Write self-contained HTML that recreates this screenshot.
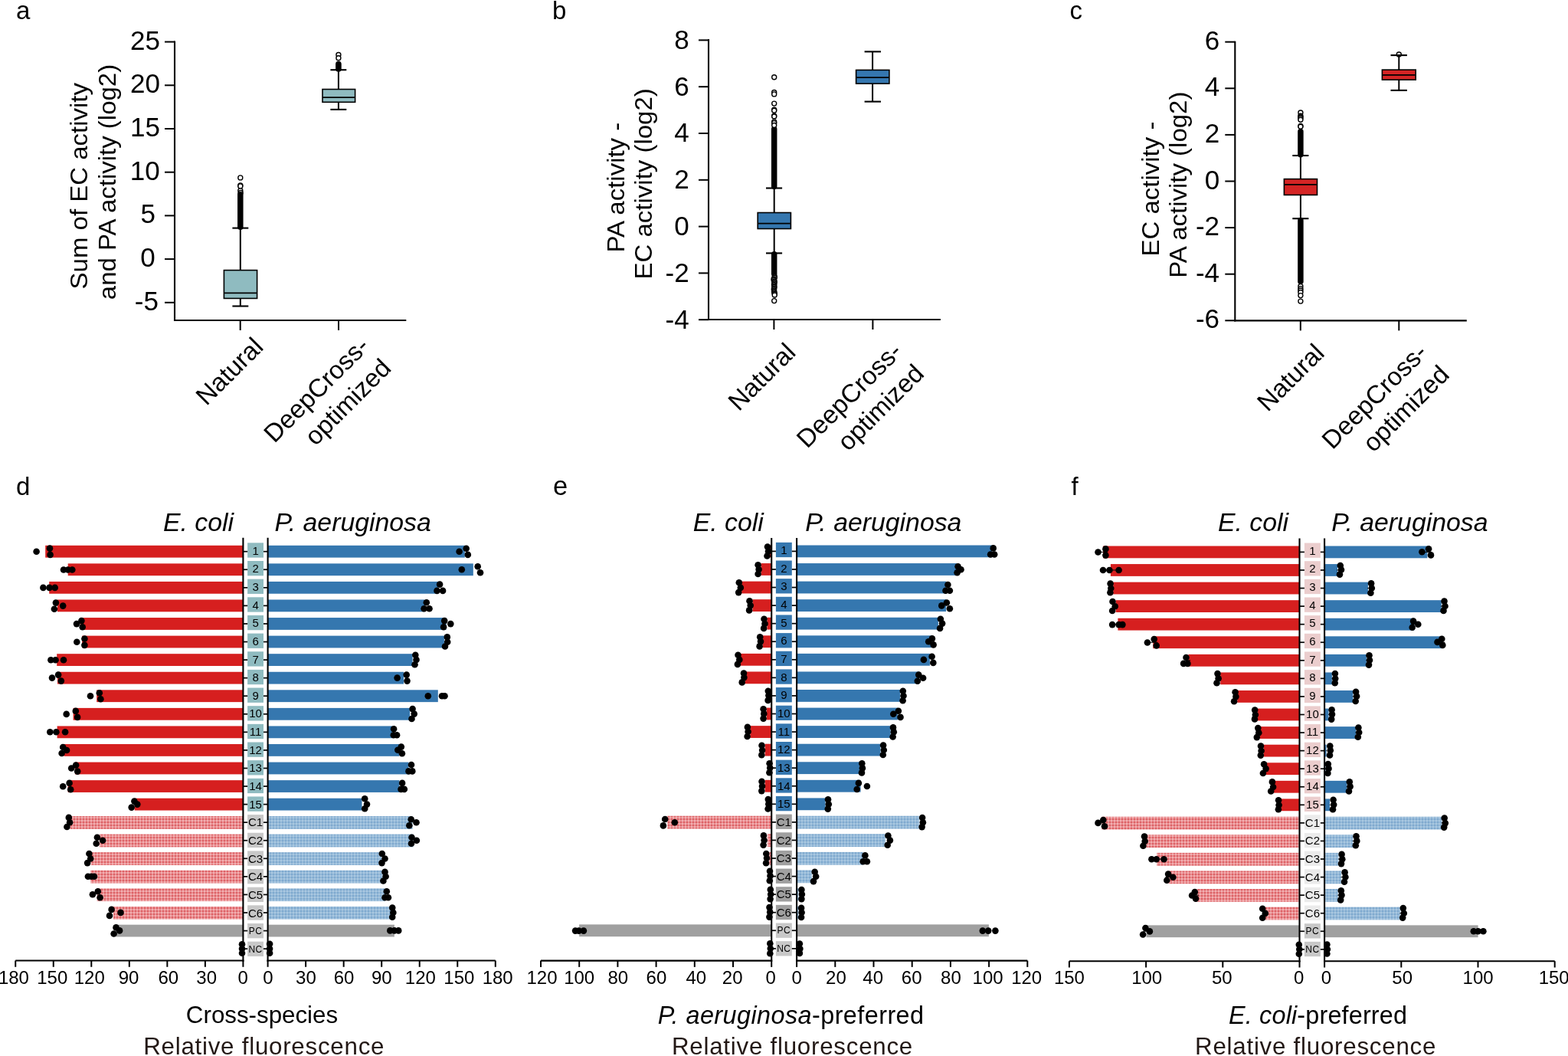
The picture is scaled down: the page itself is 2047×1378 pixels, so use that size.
<!DOCTYPE html>
<html><head><meta charset="utf-8"><title>Figure</title>
<style>html,body{margin:0;padding:0;background:#fff;}svg{display:block;}</style>
</head><body>
<svg width="2047" height="1378" viewBox="0 0 2047 1378" font-family="'Liberation Sans', Arial, Helvetica, sans-serif">
<defs>
<pattern id="hr" width="4" height="4" patternUnits="userSpaceOnUse">
<rect width="4" height="4" fill="#E98E91"/><rect x="0" y="0" width="2" height="2" fill="#DD6266"/><rect x="2" y="2" width="2" height="2" fill="#F2B0B2"/>
</pattern>
<pattern id="hb" width="4" height="4" patternUnits="userSpaceOnUse">
<rect width="4" height="4" fill="#96BAD8"/><rect x="0" y="0" width="2" height="2" fill="#7FA9CF"/><rect x="2" y="2" width="2" height="2" fill="#AAC8E1"/>
</pattern>
</defs>
<rect width="2047" height="1378" fill="#fff"/>
<line x1="228" y1="53.4" x2="228" y2="419" stroke="#000" stroke-width="2.1"/>
<line x1="227" y1="418" x2="530.3" y2="418" stroke="#000" stroke-width="2.1"/>
<line x1="215" y1="54.6" x2="228" y2="54.6" stroke="#000" stroke-width="2"/>
<text x="208.9" y="64.6" font-size="35" text-anchor="end">25</text>
<line x1="215" y1="111.3" x2="228" y2="111.3" stroke="#000" stroke-width="2"/>
<text x="208.9" y="121.3" font-size="35" text-anchor="end">20</text>
<line x1="215" y1="168" x2="228" y2="168" stroke="#000" stroke-width="2"/>
<text x="208.9" y="178" font-size="35" text-anchor="end">15</text>
<line x1="215" y1="224.7" x2="228" y2="224.7" stroke="#000" stroke-width="2"/>
<text x="208.7" y="234.7" font-size="35" text-anchor="end">10</text>
<line x1="215" y1="281.4" x2="228" y2="281.4" stroke="#000" stroke-width="2"/>
<text x="202.9" y="291.4" font-size="35" text-anchor="end">5</text>
<line x1="215" y1="338.1" x2="228" y2="338.1" stroke="#000" stroke-width="2"/>
<text x="202.6" y="348.1" font-size="35" text-anchor="end">0</text>
<line x1="215" y1="394.8" x2="228" y2="394.8" stroke="#000" stroke-width="2"/>
<text x="206.9" y="404.8" font-size="35" text-anchor="end">-5</text>
<line x1="313.7" y1="418" x2="313.7" y2="431" stroke="#000" stroke-width="2"/>
<line x1="442" y1="418" x2="442" y2="431" stroke="#000" stroke-width="2"/>
<circle cx="313.8" cy="248.6" r="3.0" fill="#fff" stroke="#000" stroke-width="1.4"/>
<circle cx="314.1" cy="251.5" r="3.0" fill="#fff" stroke="#000" stroke-width="1.4"/>
<rect x="310.05" y="250" width="7.5" height="50" rx="3.75" fill="#000"/>
<circle cx="313.8" cy="231.9" r="3.0" fill="#fff" stroke="#000" stroke-width="1.4"/>
<circle cx="313.8" cy="241.9" r="3.0" fill="#fff" stroke="#000" stroke-width="1.4"/>
<circle cx="313.8" cy="242.9" r="3.0" fill="#fff" stroke="#000" stroke-width="1.4"/>
<line x1="313.8" y1="352.6" x2="313.8" y2="297.6" stroke="#000" stroke-width="2"/>
<line x1="313.8" y1="389.4" x2="313.8" y2="399.5" stroke="#000" stroke-width="2"/>
<line x1="303.4" y1="297.6" x2="324.3" y2="297.6" stroke="#000" stroke-width="2.1"/>
<line x1="303.4" y1="399.5" x2="324.3" y2="399.5" stroke="#000" stroke-width="2.1"/>
<rect x="292.4" y="352.6" width="43.2" height="36.8" fill="#8FBBC0" stroke="#000" stroke-width="1.6"/>
<line x1="292.4" y1="382.4" x2="335.6" y2="382.4" stroke="#000" stroke-width="1.8"/>
<rect x="438.1" y="79.8" width="7.6" height="14" rx="3.8" fill="#000"/>
<circle cx="441.9" cy="71.5" r="3.0" fill="#fff" stroke="#000" stroke-width="1.4"/>
<circle cx="441.9" cy="75.8" r="3.0" fill="#fff" stroke="#000" stroke-width="1.4"/>
<line x1="441.9" y1="116.5" x2="441.9" y2="91.2" stroke="#000" stroke-width="2"/>
<line x1="441.9" y1="133.3" x2="441.9" y2="142.9" stroke="#000" stroke-width="2"/>
<line x1="431.4" y1="91.2" x2="452.3" y2="91.2" stroke="#000" stroke-width="2.1"/>
<line x1="431.4" y1="142.9" x2="452.3" y2="142.9" stroke="#000" stroke-width="2.1"/>
<rect x="421" y="116.5" width="42.6" height="16.8" fill="#8FBBC0" stroke="#000" stroke-width="1.6"/>
<line x1="421" y1="127.2" x2="463.6" y2="127.2" stroke="#000" stroke-width="1.8"/>
<text transform="translate(113.9,242.7) rotate(-90) scale(1.031,1)" font-size="32" text-anchor="middle">Sum of EC activity</text>
<text transform="translate(150.5,237.5) rotate(-90) scale(1.031,1)" font-size="32" text-anchor="middle">and PA activity (log2)</text>
<text transform="translate(345.5,454.6) rotate(-45)" font-size="33.3" text-anchor="end">Natural</text>
<text transform="translate(483.8,453.6) rotate(-45)" font-size="33.3" text-anchor="end">DeepCross-</text>
<text transform="translate(512.44,482.24) rotate(-45)" font-size="33.3" text-anchor="end">optimized</text>
<text x="20.9" y="25.2" font-size="33">a</text>
<line x1="925" y1="50.9" x2="925" y2="418" stroke="#000" stroke-width="2.1"/>
<line x1="924" y1="417" x2="1227.9" y2="417" stroke="#000" stroke-width="2.1"/>
<line x1="912" y1="52.4" x2="925" y2="52.4" stroke="#000" stroke-width="2"/>
<text x="899.7" y="63.7" font-size="35" text-anchor="end">8</text>
<line x1="912" y1="113.2" x2="925" y2="113.2" stroke="#000" stroke-width="2"/>
<text x="899.7" y="124.5" font-size="35" text-anchor="end">6</text>
<line x1="912" y1="174" x2="925" y2="174" stroke="#000" stroke-width="2"/>
<text x="899.7" y="185.3" font-size="35" text-anchor="end">4</text>
<line x1="912" y1="234.8" x2="925" y2="234.8" stroke="#000" stroke-width="2"/>
<text x="899.7" y="246.1" font-size="35" text-anchor="end">2</text>
<line x1="912" y1="295.6" x2="925" y2="295.6" stroke="#000" stroke-width="2"/>
<text x="899.7" y="306.9" font-size="35" text-anchor="end">0</text>
<line x1="912" y1="356.4" x2="925" y2="356.4" stroke="#000" stroke-width="2"/>
<text x="899.7" y="367.7" font-size="35" text-anchor="end">-2</text>
<line x1="912" y1="417.2" x2="925" y2="417.2" stroke="#000" stroke-width="2"/>
<text x="899.7" y="428.5" font-size="35" text-anchor="end">-4</text>
<line x1="1010.4" y1="417" x2="1010.4" y2="430" stroke="#000" stroke-width="2"/>
<line x1="1139.4" y1="417" x2="1139.4" y2="430" stroke="#000" stroke-width="2"/>
<rect x="1006.95" y="164.7" width="7.5" height="82.3" rx="3.75" fill="#000"/>
<rect x="1006.95" y="328" width="7.5" height="33" rx="3.75" fill="#000"/>
<circle cx="1010.7" cy="100.8" r="3.0" fill="#fff" stroke="#000" stroke-width="1.4"/>
<circle cx="1010.7" cy="120.5" r="3.0" fill="#fff" stroke="#000" stroke-width="1.4"/>
<circle cx="1010.7" cy="122.9" r="3.0" fill="#fff" stroke="#000" stroke-width="1.4"/>
<circle cx="1010.7" cy="135.1" r="3.0" fill="#fff" stroke="#000" stroke-width="1.4"/>
<circle cx="1010.7" cy="143.2" r="3.0" fill="#fff" stroke="#000" stroke-width="1.4"/>
<circle cx="1010.7" cy="144.3" r="3.0" fill="#fff" stroke="#000" stroke-width="1.4"/>
<circle cx="1010.7" cy="151.3" r="3.0" fill="#fff" stroke="#000" stroke-width="1.4"/>
<circle cx="1010.7" cy="152" r="3.0" fill="#fff" stroke="#000" stroke-width="1.4"/>
<circle cx="1010.7" cy="158.9" r="3.0" fill="#fff" stroke="#000" stroke-width="1.4"/>
<circle cx="1010.7" cy="160.6" r="3.0" fill="#fff" stroke="#000" stroke-width="1.4"/>
<circle cx="1010.7" cy="163.5" r="3.0" fill="#fff" stroke="#000" stroke-width="1.4"/>
<circle cx="1011.25" cy="361" r="3.0" fill="#fff" stroke="#000" stroke-width="1.4"/>
<circle cx="1011.24" cy="362.5" r="3.0" fill="#fff" stroke="#000" stroke-width="1.4"/>
<circle cx="1010.17" cy="364" r="3.0" fill="#fff" stroke="#000" stroke-width="1.4"/>
<circle cx="1010.2" cy="365.5" r="3.0" fill="#fff" stroke="#000" stroke-width="1.4"/>
<circle cx="1011.1" cy="367" r="3.0" fill="#fff" stroke="#000" stroke-width="1.4"/>
<circle cx="1010.98" cy="368.5" r="3.0" fill="#fff" stroke="#000" stroke-width="1.4"/>
<circle cx="1010.9" cy="370" r="3.0" fill="#fff" stroke="#000" stroke-width="1.4"/>
<circle cx="1010.47" cy="371.5" r="3.0" fill="#fff" stroke="#000" stroke-width="1.4"/>
<circle cx="1010.83" cy="373" r="3.0" fill="#fff" stroke="#000" stroke-width="1.4"/>
<circle cx="1010.83" cy="374.5" r="3.0" fill="#fff" stroke="#000" stroke-width="1.4"/>
<circle cx="1010.8" cy="376" r="3.0" fill="#fff" stroke="#000" stroke-width="1.4"/>
<circle cx="1010.29" cy="377.5" r="3.0" fill="#fff" stroke="#000" stroke-width="1.4"/>
<circle cx="1010.62" cy="379" r="3.0" fill="#fff" stroke="#000" stroke-width="1.4"/>
<circle cx="1010.57" cy="380.5" r="3.0" fill="#fff" stroke="#000" stroke-width="1.4"/>
<circle cx="1010.97" cy="382" r="3.0" fill="#fff" stroke="#000" stroke-width="1.4"/>
<circle cx="1011.29" cy="383.5" r="3.0" fill="#fff" stroke="#000" stroke-width="1.4"/>
<circle cx="1011.24" cy="385" r="3.0" fill="#fff" stroke="#000" stroke-width="1.4"/>
<circle cx="1010.7" cy="392.6" r="3.0" fill="#fff" stroke="#000" stroke-width="1.4"/>
<line x1="1010.7" y1="277.5" x2="1010.7" y2="245.5" stroke="#000" stroke-width="2"/>
<line x1="1010.7" y1="298.5" x2="1010.7" y2="330.4" stroke="#000" stroke-width="2"/>
<line x1="1000" y1="245.5" x2="1021.1" y2="245.5" stroke="#000" stroke-width="2.1"/>
<line x1="1000" y1="330.4" x2="1021.1" y2="330.4" stroke="#000" stroke-width="2.1"/>
<rect x="989.2" y="277.5" width="43.2" height="21" fill="#3577AF" stroke="#000" stroke-width="1.6"/>
<line x1="989.2" y1="291.7" x2="1032.4" y2="291.7" stroke="#000" stroke-width="1.8"/>
<line x1="1139.1" y1="91.4" x2="1139.1" y2="67.4" stroke="#000" stroke-width="2"/>
<line x1="1139.1" y1="109.1" x2="1139.1" y2="132.6" stroke="#000" stroke-width="2"/>
<line x1="1128.6" y1="67.4" x2="1150" y2="67.4" stroke="#000" stroke-width="2.1"/>
<line x1="1128.6" y1="132.6" x2="1150" y2="132.6" stroke="#000" stroke-width="2.1"/>
<rect x="1117.6" y="91.4" width="43.3" height="17.7" fill="#3577AF" stroke="#000" stroke-width="1.6"/>
<line x1="1117.6" y1="101.1" x2="1160.9" y2="101.1" stroke="#000" stroke-width="1.8"/>
<text transform="translate(814.9,244.65) rotate(-90) scale(1.031,1)" font-size="32" text-anchor="middle">PA activity -</text>
<text transform="translate(850.7,239.85) rotate(-90) scale(1.031,1)" font-size="32" text-anchor="middle">EC activity (log2)</text>
<text transform="translate(1040.5,461.8) rotate(-45)" font-size="33.3" text-anchor="end">Natural</text>
<text transform="translate(1179.45,460.65) rotate(-45)" font-size="33.3" text-anchor="end">DeepCross-</text>
<text transform="translate(1208.09,489.29) rotate(-45)" font-size="33.3" text-anchor="end">optimized</text>
<text x="721" y="25.2" font-size="33">b</text>
<line x1="1612.3" y1="53.7" x2="1612.3" y2="419.4" stroke="#000" stroke-width="2.1"/>
<line x1="1611.3" y1="418.4" x2="1914.8" y2="418.4" stroke="#000" stroke-width="2.1"/>
<line x1="1599.3" y1="54.7" x2="1612.3" y2="54.7" stroke="#000" stroke-width="2"/>
<text x="1592.1" y="64.7" font-size="35" text-anchor="end">6</text>
<line x1="1599.3" y1="115.3" x2="1612.3" y2="115.3" stroke="#000" stroke-width="2"/>
<text x="1592.1" y="125.3" font-size="35" text-anchor="end">4</text>
<line x1="1599.3" y1="175.9" x2="1612.3" y2="175.9" stroke="#000" stroke-width="2"/>
<text x="1592.1" y="185.9" font-size="35" text-anchor="end">2</text>
<line x1="1599.3" y1="236.5" x2="1612.3" y2="236.5" stroke="#000" stroke-width="2"/>
<text x="1592.1" y="246.5" font-size="35" text-anchor="end">0</text>
<line x1="1599.3" y1="297.1" x2="1612.3" y2="297.1" stroke="#000" stroke-width="2"/>
<text x="1592.1" y="307.1" font-size="35" text-anchor="end">-2</text>
<line x1="1599.3" y1="357.7" x2="1612.3" y2="357.7" stroke="#000" stroke-width="2"/>
<text x="1592.1" y="367.7" font-size="35" text-anchor="end">-4</text>
<line x1="1599.3" y1="418.3" x2="1612.3" y2="418.3" stroke="#000" stroke-width="2"/>
<text x="1592.1" y="428.3" font-size="35" text-anchor="end">-6</text>
<line x1="1697.8" y1="418.4" x2="1697.8" y2="431.4" stroke="#000" stroke-width="2"/>
<line x1="1826.3" y1="418.4" x2="1826.3" y2="431.4" stroke="#000" stroke-width="2"/>
<rect x="1694.15" y="167.9" width="7.5" height="37.7" rx="3.75" fill="#000"/>
<rect x="1694.15" y="284" width="7.5" height="87" rx="3.75" fill="#000"/>
<circle cx="1697.9" cy="147" r="3.0" fill="#fff" stroke="#000" stroke-width="1.4"/>
<circle cx="1697.9" cy="151.3" r="3.0" fill="#fff" stroke="#000" stroke-width="1.4"/>
<circle cx="1697.9" cy="152.8" r="3.0" fill="#fff" stroke="#000" stroke-width="1.4"/>
<circle cx="1697.9" cy="154.3" r="3.0" fill="#fff" stroke="#000" stroke-width="1.4"/>
<circle cx="1697.9" cy="156.3" r="3.0" fill="#fff" stroke="#000" stroke-width="1.4"/>
<circle cx="1697.9" cy="164.4" r="3.0" fill="#fff" stroke="#000" stroke-width="1.4"/>
<circle cx="1697.9" cy="165.2" r="3.0" fill="#fff" stroke="#000" stroke-width="1.4"/>
<circle cx="1697.9" cy="373.5" r="3.0" fill="#fff" stroke="#000" stroke-width="1.4"/>
<circle cx="1697.9" cy="376.6" r="3.0" fill="#fff" stroke="#000" stroke-width="1.4"/>
<circle cx="1697.9" cy="379" r="3.0" fill="#fff" stroke="#000" stroke-width="1.4"/>
<circle cx="1697.9" cy="381.5" r="3.0" fill="#fff" stroke="#000" stroke-width="1.4"/>
<circle cx="1697.9" cy="385.6" r="3.0" fill="#fff" stroke="#000" stroke-width="1.4"/>
<circle cx="1697.9" cy="393.1" r="3.0" fill="#fff" stroke="#000" stroke-width="1.4"/>
<line x1="1697.9" y1="233.6" x2="1697.9" y2="203" stroke="#000" stroke-width="2"/>
<line x1="1697.9" y1="254.4" x2="1697.9" y2="285.2" stroke="#000" stroke-width="2"/>
<line x1="1687.3" y1="203" x2="1708.4" y2="203" stroke="#000" stroke-width="2.1"/>
<line x1="1687.3" y1="285.2" x2="1708.4" y2="285.2" stroke="#000" stroke-width="2.1"/>
<rect x="1676.4" y="233.6" width="43.1" height="20.8" fill="#D42424" stroke="#000" stroke-width="1.6"/>
<line x1="1676.4" y1="240.9" x2="1719.5" y2="240.9" stroke="#000" stroke-width="1.8"/>
<circle cx="1826.3" cy="71" r="3.0" fill="#fff" stroke="#000" stroke-width="1.4"/>
<line x1="1826.3" y1="91.1" x2="1826.3" y2="72.1" stroke="#000" stroke-width="2"/>
<line x1="1826.3" y1="104.1" x2="1826.3" y2="117.9" stroke="#000" stroke-width="2"/>
<line x1="1815.5" y1="72.1" x2="1836.9" y2="72.1" stroke="#000" stroke-width="2.1"/>
<line x1="1815.5" y1="117.9" x2="1836.9" y2="117.9" stroke="#000" stroke-width="2.1"/>
<rect x="1804.4" y="91.1" width="43.8" height="13" fill="#D42424" stroke="#000" stroke-width="1.6"/>
<line x1="1804.4" y1="97.9" x2="1848.2" y2="97.9" stroke="#000" stroke-width="1.8"/>
<text transform="translate(1512.6,246.55) rotate(-90) scale(1.031,1)" font-size="32" text-anchor="middle">EC activity -</text>
<text transform="translate(1548.7,241.15) rotate(-90) scale(1.031,1)" font-size="32" text-anchor="middle">PA activity (log2)</text>
<text transform="translate(1730.85,462.7) rotate(-45)" font-size="33.3" text-anchor="end">Natural</text>
<text transform="translate(1865.1,462.1) rotate(-45)" font-size="33.3" text-anchor="end">DeepCross-</text>
<text transform="translate(1893.74,490.74) rotate(-45)" font-size="33.3" text-anchor="end">optimized</text>
<text x="1396.5" y="25.3" font-size="33">c</text>
<text x="305.1" y="692.7" font-size="33.8" font-style="italic" text-anchor="end">E. coli</text>
<text x="358.6" y="692.7" font-size="33.8" font-style="italic">P. aeruginosa</text>
<rect x="59.2" y="711.8" width="258.2" height="15.8" fill="#D61F1F"/>
<rect x="349.6" y="711.8" width="257.2" height="15.8" fill="#3577AF"/>
<rect x="323.1" y="708.35" width="20.9" height="19.3" fill="#8FBBC0"/>
<text x="333.55" y="723.6" font-size="15" text-anchor="middle">1</text>
<line x1="317.4" y1="719.7" x2="323.1" y2="719.7" stroke="#000" stroke-width="1.7"/>
<line x1="344" y1="719.7" x2="349.6" y2="719.7" stroke="#000" stroke-width="1.7"/>
<rect x="88.7" y="735.37" width="228.7" height="15.8" fill="#D61F1F"/>
<rect x="349.6" y="735.37" width="268.2" height="15.8" fill="#3577AF"/>
<rect x="323.1" y="732" width="20.9" height="19.3" fill="#8FBBC0"/>
<text x="333.55" y="747.25" font-size="15" text-anchor="middle">2</text>
<line x1="317.4" y1="743.27" x2="323.1" y2="743.27" stroke="#000" stroke-width="1.7"/>
<line x1="344" y1="743.27" x2="349.6" y2="743.27" stroke="#000" stroke-width="1.7"/>
<rect x="64.2" y="758.93" width="253.2" height="15.8" fill="#D61F1F"/>
<rect x="349.6" y="758.93" width="222.5" height="15.8" fill="#3577AF"/>
<rect x="323.1" y="755.65" width="20.9" height="19.3" fill="#8FBBC0"/>
<text x="333.55" y="770.9" font-size="15" text-anchor="middle">3</text>
<line x1="317.4" y1="766.83" x2="323.1" y2="766.83" stroke="#000" stroke-width="1.7"/>
<line x1="344" y1="766.83" x2="349.6" y2="766.83" stroke="#000" stroke-width="1.7"/>
<rect x="75" y="782.5" width="242.4" height="15.8" fill="#D61F1F"/>
<rect x="349.6" y="782.5" width="204.8" height="15.8" fill="#3577AF"/>
<rect x="323.1" y="779.3" width="20.9" height="19.3" fill="#8FBBC0"/>
<text x="333.55" y="794.55" font-size="15" text-anchor="middle">4</text>
<line x1="317.4" y1="790.4" x2="323.1" y2="790.4" stroke="#000" stroke-width="1.7"/>
<line x1="344" y1="790.4" x2="349.6" y2="790.4" stroke="#000" stroke-width="1.7"/>
<rect x="104.8" y="806.06" width="212.6" height="15.8" fill="#D61F1F"/>
<rect x="349.6" y="806.06" width="233" height="15.8" fill="#3577AF"/>
<rect x="323.1" y="802.95" width="20.9" height="19.3" fill="#8FBBC0"/>
<text x="333.55" y="818.2" font-size="15" text-anchor="middle">5</text>
<line x1="317.4" y1="813.96" x2="323.1" y2="813.96" stroke="#000" stroke-width="1.7"/>
<line x1="344" y1="813.96" x2="349.6" y2="813.96" stroke="#000" stroke-width="1.7"/>
<rect x="107.2" y="829.63" width="210.2" height="15.8" fill="#D61F1F"/>
<rect x="349.6" y="829.63" width="230.3" height="15.8" fill="#3577AF"/>
<rect x="323.1" y="826.6" width="20.9" height="19.3" fill="#8FBBC0"/>
<text x="333.55" y="841.85" font-size="15" text-anchor="middle">6</text>
<line x1="317.4" y1="837.53" x2="323.1" y2="837.53" stroke="#000" stroke-width="1.7"/>
<line x1="344" y1="837.53" x2="349.6" y2="837.53" stroke="#000" stroke-width="1.7"/>
<rect x="74.2" y="853.19" width="243.2" height="15.8" fill="#D61F1F"/>
<rect x="349.6" y="853.19" width="189" height="15.8" fill="#3577AF"/>
<rect x="323.1" y="850.25" width="20.9" height="19.3" fill="#8FBBC0"/>
<text x="333.55" y="865.5" font-size="15" text-anchor="middle">7</text>
<line x1="317.4" y1="861.09" x2="323.1" y2="861.09" stroke="#000" stroke-width="1.7"/>
<line x1="344" y1="861.09" x2="349.6" y2="861.09" stroke="#000" stroke-width="1.7"/>
<rect x="75" y="876.76" width="242.4" height="15.8" fill="#D61F1F"/>
<rect x="349.6" y="876.76" width="177.4" height="15.8" fill="#3577AF"/>
<rect x="323.1" y="873.9" width="20.9" height="19.3" fill="#8FBBC0"/>
<text x="333.55" y="889.15" font-size="15" text-anchor="middle">8</text>
<line x1="317.4" y1="884.66" x2="323.1" y2="884.66" stroke="#000" stroke-width="1.7"/>
<line x1="344" y1="884.66" x2="349.6" y2="884.66" stroke="#000" stroke-width="1.7"/>
<rect x="126.2" y="900.32" width="191.2" height="15.8" fill="#D61F1F"/>
<rect x="349.6" y="900.32" width="222.2" height="15.8" fill="#3577AF"/>
<rect x="323.1" y="897.55" width="20.9" height="19.3" fill="#8FBBC0"/>
<text x="333.55" y="912.8" font-size="15" text-anchor="middle">9</text>
<line x1="317.4" y1="908.22" x2="323.1" y2="908.22" stroke="#000" stroke-width="1.7"/>
<line x1="344" y1="908.22" x2="349.6" y2="908.22" stroke="#000" stroke-width="1.7"/>
<rect x="95.6" y="923.89" width="221.8" height="15.8" fill="#D61F1F"/>
<rect x="349.6" y="923.89" width="185.5" height="15.8" fill="#3577AF"/>
<rect x="323.1" y="921.2" width="20.9" height="19.3" fill="#8FBBC0"/>
<text x="333.55" y="936.45" font-size="15" text-anchor="middle">10</text>
<line x1="317.4" y1="931.79" x2="323.1" y2="931.79" stroke="#000" stroke-width="1.7"/>
<line x1="344" y1="931.79" x2="349.6" y2="931.79" stroke="#000" stroke-width="1.7"/>
<rect x="74.6" y="947.45" width="242.8" height="15.8" fill="#D61F1F"/>
<rect x="349.6" y="947.45" width="162.6" height="15.8" fill="#3577AF"/>
<rect x="323.1" y="944.85" width="20.9" height="19.3" fill="#8FBBC0"/>
<text x="333.55" y="960.1" font-size="15" text-anchor="middle">11</text>
<line x1="317.4" y1="955.35" x2="323.1" y2="955.35" stroke="#000" stroke-width="1.7"/>
<line x1="344" y1="955.35" x2="349.6" y2="955.35" stroke="#000" stroke-width="1.7"/>
<rect x="83.5" y="971.02" width="233.9" height="15.8" fill="#D61F1F"/>
<rect x="349.6" y="971.02" width="171.8" height="15.8" fill="#3577AF"/>
<rect x="323.1" y="968.5" width="20.9" height="19.3" fill="#8FBBC0"/>
<text x="333.55" y="983.75" font-size="15" text-anchor="middle">12</text>
<line x1="317.4" y1="978.92" x2="323.1" y2="978.92" stroke="#000" stroke-width="1.7"/>
<line x1="344" y1="978.92" x2="349.6" y2="978.92" stroke="#000" stroke-width="1.7"/>
<rect x="97.9" y="994.58" width="219.5" height="15.8" fill="#D61F1F"/>
<rect x="349.6" y="994.58" width="183.9" height="15.8" fill="#3577AF"/>
<rect x="323.1" y="992.15" width="20.9" height="19.3" fill="#8FBBC0"/>
<text x="333.55" y="1007.4" font-size="15" text-anchor="middle">13</text>
<line x1="317.4" y1="1002.48" x2="323.1" y2="1002.48" stroke="#000" stroke-width="1.7"/>
<line x1="344" y1="1002.48" x2="349.6" y2="1002.48" stroke="#000" stroke-width="1.7"/>
<rect x="88.7" y="1018.15" width="228.7" height="15.8" fill="#D61F1F"/>
<rect x="349.6" y="1018.15" width="171.8" height="15.8" fill="#3577AF"/>
<rect x="323.1" y="1015.8" width="20.9" height="19.3" fill="#8FBBC0"/>
<text x="333.55" y="1031.05" font-size="15" text-anchor="middle">14</text>
<line x1="317.4" y1="1026.05" x2="323.1" y2="1026.05" stroke="#000" stroke-width="1.7"/>
<line x1="344" y1="1026.05" x2="349.6" y2="1026.05" stroke="#000" stroke-width="1.7"/>
<rect x="175.7" y="1041.71" width="141.7" height="15.8" fill="#D61F1F"/>
<rect x="349.6" y="1041.71" width="122.9" height="15.8" fill="#3577AF"/>
<rect x="323.1" y="1039.45" width="20.9" height="19.3" fill="#8FBBC0"/>
<text x="333.55" y="1054.7" font-size="15" text-anchor="middle">15</text>
<line x1="317.4" y1="1049.61" x2="323.1" y2="1049.61" stroke="#000" stroke-width="1.7"/>
<line x1="344" y1="1049.61" x2="349.6" y2="1049.61" stroke="#000" stroke-width="1.7"/>
<rect x="91.4" y="1065.03" width="226" height="16.8" fill="url(#hr)"/>
<rect x="349.6" y="1065.03" width="189" height="16.8" fill="url(#hb)"/>
<rect x="323.1" y="1063.1" width="20.9" height="19.3" fill="#C8C8C8"/>
<text x="333.55" y="1078.35" font-size="15" text-anchor="middle">C1</text>
<line x1="317.4" y1="1073.18" x2="323.1" y2="1073.18" stroke="#000" stroke-width="1.7"/>
<line x1="344" y1="1073.18" x2="349.6" y2="1073.18" stroke="#000" stroke-width="1.7"/>
<rect x="129.8" y="1088.59" width="187.6" height="16.8" fill="url(#hr)"/>
<rect x="349.6" y="1088.59" width="190" height="16.8" fill="url(#hb)"/>
<rect x="323.1" y="1086.75" width="20.9" height="19.3" fill="#C8C8C8"/>
<text x="333.55" y="1102" font-size="15" text-anchor="middle">C2</text>
<line x1="317.4" y1="1096.74" x2="323.1" y2="1096.74" stroke="#000" stroke-width="1.7"/>
<line x1="344" y1="1096.74" x2="349.6" y2="1096.74" stroke="#000" stroke-width="1.7"/>
<rect x="118.5" y="1112.15" width="198.9" height="16.8" fill="url(#hr)"/>
<rect x="349.6" y="1112.15" width="148.4" height="16.8" fill="url(#hb)"/>
<rect x="323.1" y="1110.4" width="20.9" height="19.3" fill="#C8C8C8"/>
<text x="333.55" y="1125.65" font-size="15" text-anchor="middle">C3</text>
<line x1="317.4" y1="1120.31" x2="323.1" y2="1120.31" stroke="#000" stroke-width="1.7"/>
<line x1="344" y1="1120.31" x2="349.6" y2="1120.31" stroke="#000" stroke-width="1.7"/>
<rect x="118.2" y="1135.72" width="199.2" height="16.8" fill="url(#hr)"/>
<rect x="349.6" y="1135.72" width="150" height="16.8" fill="url(#hb)"/>
<rect x="323.1" y="1134.05" width="20.9" height="19.3" fill="#C8C8C8"/>
<text x="333.55" y="1149.3" font-size="15" text-anchor="middle">C4</text>
<line x1="317.4" y1="1143.87" x2="323.1" y2="1143.87" stroke="#000" stroke-width="1.7"/>
<line x1="344" y1="1143.87" x2="349.6" y2="1143.87" stroke="#000" stroke-width="1.7"/>
<rect x="126.6" y="1159.28" width="190.8" height="16.8" fill="url(#hr)"/>
<rect x="349.6" y="1159.28" width="153.2" height="16.8" fill="url(#hb)"/>
<rect x="323.1" y="1157.7" width="20.9" height="19.3" fill="#C8C8C8"/>
<text x="333.55" y="1172.95" font-size="15" text-anchor="middle">C5</text>
<line x1="317.4" y1="1167.43" x2="323.1" y2="1167.43" stroke="#000" stroke-width="1.7"/>
<line x1="344" y1="1167.43" x2="349.6" y2="1167.43" stroke="#000" stroke-width="1.7"/>
<rect x="148" y="1182.85" width="169.4" height="16.8" fill="url(#hr)"/>
<rect x="349.6" y="1182.85" width="161.3" height="16.8" fill="url(#hb)"/>
<rect x="323.1" y="1181.35" width="20.9" height="19.3" fill="#C8C8C8"/>
<text x="333.55" y="1196.6" font-size="15" text-anchor="middle">C6</text>
<line x1="317.4" y1="1191" x2="323.1" y2="1191" stroke="#000" stroke-width="1.7"/>
<line x1="344" y1="1191" x2="349.6" y2="1191" stroke="#000" stroke-width="1.7"/>
<rect x="151.5" y="1206.66" width="165.9" height="15.8" fill="#A0A0A0"/>
<rect x="349.6" y="1206.66" width="165.3" height="15.8" fill="#A0A0A0"/>
<rect x="323.1" y="1205" width="20.9" height="19.3" fill="#C8C8C8"/>
<text x="333.55" y="1218.95" font-size="12" letter-spacing="0.5" text-anchor="middle">PC</text>
<line x1="317.4" y1="1214.57" x2="323.1" y2="1214.57" stroke="#000" stroke-width="1.7"/>
<line x1="344" y1="1214.57" x2="349.6" y2="1214.57" stroke="#000" stroke-width="1.7"/>
<rect x="323.1" y="1228.65" width="20.9" height="19.3" fill="#C8C8C8"/>
<text x="333.55" y="1242.6" font-size="12" letter-spacing="0.5" text-anchor="middle">NC</text>
<line x1="317.4" y1="1238.13" x2="323.1" y2="1238.13" stroke="#000" stroke-width="1.7"/>
<line x1="344" y1="1238.13" x2="349.6" y2="1238.13" stroke="#000" stroke-width="1.7"/>
<line x1="317.4" y1="701.8" x2="317.4" y2="1254.5" stroke="#000" stroke-width="2.1"/>
<line x1="349.6" y1="701.8" x2="349.6" y2="1254.5" stroke="#000" stroke-width="2.1"/>
<line x1="20.22" y1="1253.5" x2="318.4" y2="1253.5" stroke="#000" stroke-width="2.1"/>
<line x1="348.6" y1="1253.5" x2="646.78" y2="1253.5" stroke="#000" stroke-width="2.1"/>
<line x1="317.4" y1="1253.5" x2="317.4" y2="1261.8" stroke="#000" stroke-width="2"/>
<text x="317.2" y="1284.4" font-size="24" text-anchor="middle">0</text>
<line x1="349.6" y1="1253.5" x2="349.6" y2="1261.8" stroke="#000" stroke-width="2"/>
<text x="349.85" y="1284.4" font-size="24" text-anchor="middle">0</text>
<line x1="267.87" y1="1253.5" x2="267.87" y2="1261.8" stroke="#000" stroke-width="2"/>
<text x="269.67" y="1284.4" font-size="24" text-anchor="middle">30</text>
<line x1="399.13" y1="1253.5" x2="399.13" y2="1261.8" stroke="#000" stroke-width="2"/>
<text x="399.43" y="1284.4" font-size="24" text-anchor="middle">30</text>
<line x1="218.34" y1="1253.5" x2="218.34" y2="1261.8" stroke="#000" stroke-width="2"/>
<text x="219.74" y="1284.4" font-size="24" text-anchor="middle">60</text>
<line x1="448.66" y1="1253.5" x2="448.66" y2="1261.8" stroke="#000" stroke-width="2"/>
<text x="449.11" y="1284.4" font-size="24" text-anchor="middle">60</text>
<line x1="168.81" y1="1253.5" x2="168.81" y2="1261.8" stroke="#000" stroke-width="2"/>
<text x="168.06" y="1284.4" font-size="24" text-anchor="middle">90</text>
<line x1="498.19" y1="1253.5" x2="498.19" y2="1261.8" stroke="#000" stroke-width="2"/>
<text x="498.34" y="1284.4" font-size="24" text-anchor="middle">90</text>
<line x1="119.28" y1="1253.5" x2="119.28" y2="1261.8" stroke="#000" stroke-width="2"/>
<text x="116.73" y="1284.4" font-size="24" text-anchor="middle">120</text>
<line x1="547.72" y1="1253.5" x2="547.72" y2="1261.8" stroke="#000" stroke-width="2"/>
<text x="548.87" y="1284.4" font-size="24" text-anchor="middle">120</text>
<line x1="69.75" y1="1253.5" x2="69.75" y2="1261.8" stroke="#000" stroke-width="2"/>
<text x="68.3" y="1284.4" font-size="24" text-anchor="middle">150</text>
<line x1="597.25" y1="1253.5" x2="597.25" y2="1261.8" stroke="#000" stroke-width="2"/>
<text x="599.35" y="1284.4" font-size="24" text-anchor="middle">150</text>
<line x1="20.22" y1="1253.5" x2="20.22" y2="1261.8" stroke="#000" stroke-width="2"/>
<text x="17.92" y="1284.4" font-size="24" text-anchor="middle">180</text>
<line x1="646.78" y1="1253.5" x2="646.78" y2="1261.8" stroke="#000" stroke-width="2"/>
<text x="649.68" y="1284.4" font-size="24" text-anchor="middle">180</text>
<circle cx="47.6" cy="719.7" r="4.3"/>
<circle cx="65" cy="715.6" r="4.3"/>
<circle cx="65.6" cy="723.9" r="4.3"/>
<circle cx="83" cy="743.5" r="4.3"/>
<circle cx="88.7" cy="743.5" r="4.3"/>
<circle cx="94.3" cy="743.5" r="4.3"/>
<circle cx="56.4" cy="766.9" r="4.3"/>
<circle cx="64.5" cy="766.9" r="4.3"/>
<circle cx="71.7" cy="766.9" r="4.3"/>
<circle cx="72.9" cy="786.6" r="4.3"/>
<circle cx="82.2" cy="790.6" r="4.3"/>
<circle cx="70.9" cy="794.8" r="4.3"/>
<circle cx="106.4" cy="810.1" r="4.3"/>
<circle cx="100" cy="814.1" r="4.3"/>
<circle cx="107.7" cy="818.2" r="4.3"/>
<circle cx="110.4" cy="833.5" r="4.3"/>
<circle cx="100.3" cy="837.8" r="4.3"/>
<circle cx="110.4" cy="841.9" r="4.3"/>
<circle cx="66.4" cy="861.2" r="4.3"/>
<circle cx="72.5" cy="861.2" r="4.3"/>
<circle cx="83" cy="861.2" r="4.3"/>
<circle cx="76.1" cy="880.6" r="4.3"/>
<circle cx="68" cy="884.6" r="4.3"/>
<circle cx="79.8" cy="888.6" r="4.3"/>
<circle cx="129.8" cy="904.2" r="4.3"/>
<circle cx="118" cy="908.2" r="4.3"/>
<circle cx="131.4" cy="912.2" r="4.3"/>
<circle cx="98.8" cy="927.9" r="4.3"/>
<circle cx="86.7" cy="931.9" r="4.3"/>
<circle cx="101.1" cy="935.9" r="4.3"/>
<circle cx="65.3" cy="955.3" r="4.3"/>
<circle cx="73.4" cy="955.3" r="4.3"/>
<circle cx="85.1" cy="955.3" r="4.3"/>
<circle cx="82.2" cy="975" r="4.3"/>
<circle cx="87.1" cy="979" r="4.3"/>
<circle cx="80.6" cy="983" r="4.3"/>
<circle cx="99.1" cy="998.5" r="4.3"/>
<circle cx="93.2" cy="1002.5" r="4.3"/>
<circle cx="101.2" cy="1006.6" r="4.3"/>
<circle cx="90.6" cy="1021.9" r="4.3"/>
<circle cx="82.2" cy="1026.2" r="4.3"/>
<circle cx="92.2" cy="1030.3" r="4.3"/>
<circle cx="175.4" cy="1045.6" r="4.3"/>
<circle cx="179.3" cy="1049.6" r="4.3"/>
<circle cx="171.7" cy="1053.6" r="4.3"/>
<circle cx="89.8" cy="1066.9" r="4.3"/>
<circle cx="91.1" cy="1073.2" r="4.3"/>
<circle cx="87.4" cy="1079" r="4.3"/>
<circle cx="126.9" cy="1092.7" r="4.3"/>
<circle cx="134.1" cy="1096.8" r="4.3"/>
<circle cx="125.7" cy="1100.8" r="4.3"/>
<circle cx="116.4" cy="1114" r="4.3"/>
<circle cx="118.2" cy="1120.5" r="4.3"/>
<circle cx="114.1" cy="1126.1" r="4.3"/>
<circle cx="114.9" cy="1143.8" r="4.3"/>
<circle cx="119.3" cy="1143.8" r="4.3"/>
<circle cx="123" cy="1143.8" r="4.3"/>
<circle cx="127.8" cy="1163.2" r="4.3"/>
<circle cx="120.9" cy="1167.2" r="4.3"/>
<circle cx="130.6" cy="1171.2" r="4.3"/>
<circle cx="145.6" cy="1186.9" r="4.3"/>
<circle cx="157.5" cy="1190.9" r="4.3"/>
<circle cx="143" cy="1194.9" r="4.3"/>
<circle cx="151.5" cy="1210.4" r="4.3"/>
<circle cx="156.1" cy="1214.4" r="4.3"/>
<circle cx="148.6" cy="1218.5" r="4.3"/>
<circle cx="316" cy="1232.2" r="4.3"/>
<circle cx="316" cy="1238.1" r="4.3"/>
<circle cx="316" cy="1243.8" r="4.3"/>
<circle cx="608.7" cy="715.8" r="4.3"/>
<circle cx="599.6" cy="719.8" r="4.3"/>
<circle cx="610.8" cy="723.9" r="4.3"/>
<circle cx="623.7" cy="739.2" r="4.3"/>
<circle cx="602.8" cy="743.2" r="4.3"/>
<circle cx="627" cy="747.2" r="4.3"/>
<circle cx="574.1" cy="762.6" r="4.3"/>
<circle cx="570.5" cy="770.9" r="4.3"/>
<circle cx="578.1" cy="770.9" r="4.3"/>
<circle cx="556.8" cy="786.2" r="4.3"/>
<circle cx="553.6" cy="794.3" r="4.3"/>
<circle cx="560.5" cy="794.3" r="4.3"/>
<circle cx="580.2" cy="810.1" r="4.3"/>
<circle cx="588.3" cy="814.1" r="4.3"/>
<circle cx="579.1" cy="818.2" r="4.3"/>
<circle cx="583.8" cy="831.4" r="4.3"/>
<circle cx="584.2" cy="837.8" r="4.3"/>
<circle cx="581" cy="843.5" r="4.3"/>
<circle cx="542.3" cy="854.8" r="4.3"/>
<circle cx="543.5" cy="860.9" r="4.3"/>
<circle cx="541.5" cy="867.3" r="4.3"/>
<circle cx="530.7" cy="880.6" r="4.3"/>
<circle cx="518.6" cy="884.6" r="4.3"/>
<circle cx="531.5" cy="888.6" r="4.3"/>
<circle cx="558.8" cy="908.2" r="4.3"/>
<circle cx="577" cy="908.2" r="4.3"/>
<circle cx="580.5" cy="908.2" r="4.3"/>
<circle cx="538.6" cy="925.1" r="4.3"/>
<circle cx="540.7" cy="931.6" r="4.3"/>
<circle cx="537.5" cy="938" r="4.3"/>
<circle cx="514.1" cy="951.3" r="4.3"/>
<circle cx="513.8" cy="959.3" r="4.3"/>
<circle cx="518.1" cy="959.3" r="4.3"/>
<circle cx="523.8" cy="974.6" r="4.3"/>
<circle cx="519.3" cy="978.7" r="4.3"/>
<circle cx="524.9" cy="983.2" r="4.3"/>
<circle cx="537" cy="998" r="4.3"/>
<circle cx="533.5" cy="1006.4" r="4.3"/>
<circle cx="538.3" cy="1006.4" r="4.3"/>
<circle cx="525.1" cy="1021.9" r="4.3"/>
<circle cx="523.5" cy="1029.9" r="4.3"/>
<circle cx="527.8" cy="1029.9" r="4.3"/>
<circle cx="476.2" cy="1042.3" r="4.3"/>
<circle cx="479" cy="1049.6" r="4.3"/>
<circle cx="476.2" cy="1055.2" r="4.3"/>
<circle cx="536.7" cy="1069.2" r="4.3"/>
<circle cx="543.5" cy="1073.2" r="4.3"/>
<circle cx="534.3" cy="1077.3" r="4.3"/>
<circle cx="537.5" cy="1092.7" r="4.3"/>
<circle cx="543.9" cy="1096.8" r="4.3"/>
<circle cx="537" cy="1100.8" r="4.3"/>
<circle cx="498.8" cy="1114" r="4.3"/>
<circle cx="502.5" cy="1120.5" r="4.3"/>
<circle cx="498.5" cy="1126.1" r="4.3"/>
<circle cx="502.5" cy="1137.9" r="4.3"/>
<circle cx="503.6" cy="1143.8" r="4.3"/>
<circle cx="500.4" cy="1149.5" r="4.3"/>
<circle cx="504.8" cy="1163.2" r="4.3"/>
<circle cx="502.5" cy="1171.2" r="4.3"/>
<circle cx="506.9" cy="1171.2" r="4.3"/>
<circle cx="512.2" cy="1184.5" r="4.3"/>
<circle cx="513.3" cy="1190.9" r="4.3"/>
<circle cx="512.2" cy="1196.7" r="4.3"/>
<circle cx="509.3" cy="1214.4" r="4.3"/>
<circle cx="514.9" cy="1214.4" r="4.3"/>
<circle cx="520.2" cy="1214.4" r="4.3"/>
<circle cx="352.1" cy="1231.7" r="4.3"/>
<circle cx="352.1" cy="1238.1" r="4.3"/>
<circle cx="352.1" cy="1243.8" r="4.3"/>
<text x="342.0" y="1334.7" font-size="31.3" text-anchor="middle">Cross-species</text>
<text x="344.3" y="1376.4" font-size="31.3" text-anchor="middle" fill="#231815" textLength="314.3" lengthAdjust="spacing">Relative fluorescence</text>
<text x="996.8" y="692.7" font-size="33.8" font-style="italic" text-anchor="end">E. coli</text>
<text x="1051.2" y="692.7" font-size="33.8" font-style="italic">P. aeruginosa</text>
<rect x="1004.7" y="711.5" width="2.5" height="15.8" fill="#D61F1F"/>
<rect x="1040.1" y="711.5" width="255.2" height="15.8" fill="#3577AF"/>
<rect x="1012.9" y="707.85" width="20.9" height="19.3" fill="#3577AF"/>
<text x="1023.35" y="723.1" font-size="15" text-anchor="middle">1</text>
<line x1="1007.2" y1="719.4" x2="1012.9" y2="719.4" stroke="#000" stroke-width="1.7"/>
<line x1="1033.8" y1="719.4" x2="1040.1" y2="719.4" stroke="#000" stroke-width="1.7"/>
<rect x="993.5" y="735.07" width="13.7" height="15.8" fill="#D61F1F"/>
<rect x="1040.1" y="735.07" width="209" height="15.8" fill="#3577AF"/>
<rect x="1012.9" y="731.5" width="20.9" height="19.3" fill="#3577AF"/>
<text x="1023.35" y="746.75" font-size="15" text-anchor="middle">2</text>
<line x1="1007.2" y1="742.97" x2="1012.9" y2="742.97" stroke="#000" stroke-width="1.7"/>
<line x1="1033.8" y1="742.97" x2="1040.1" y2="742.97" stroke="#000" stroke-width="1.7"/>
<rect x="968.1" y="758.63" width="39.1" height="15.8" fill="#D61F1F"/>
<rect x="1040.1" y="758.63" width="195.1" height="15.8" fill="#3577AF"/>
<rect x="1012.9" y="755.15" width="20.9" height="19.3" fill="#3577AF"/>
<text x="1023.35" y="770.4" font-size="15" text-anchor="middle">3</text>
<line x1="1007.2" y1="766.53" x2="1012.9" y2="766.53" stroke="#000" stroke-width="1.7"/>
<line x1="1033.8" y1="766.53" x2="1040.1" y2="766.53" stroke="#000" stroke-width="1.7"/>
<rect x="982.4" y="782.2" width="24.8" height="15.8" fill="#D61F1F"/>
<rect x="1040.1" y="782.2" width="195.1" height="15.8" fill="#3577AF"/>
<rect x="1012.9" y="778.8" width="20.9" height="19.3" fill="#3577AF"/>
<text x="1023.35" y="794.05" font-size="15" text-anchor="middle">4</text>
<line x1="1007.2" y1="790.1" x2="1012.9" y2="790.1" stroke="#000" stroke-width="1.7"/>
<line x1="1033.8" y1="790.1" x2="1040.1" y2="790.1" stroke="#000" stroke-width="1.7"/>
<rect x="1001.4" y="805.76" width="5.8" height="15.8" fill="#D61F1F"/>
<rect x="1040.1" y="805.76" width="184.8" height="15.8" fill="#3577AF"/>
<rect x="1012.9" y="802.45" width="20.9" height="19.3" fill="#3577AF"/>
<text x="1023.35" y="817.7" font-size="15" text-anchor="middle">5</text>
<line x1="1007.2" y1="813.66" x2="1012.9" y2="813.66" stroke="#000" stroke-width="1.7"/>
<line x1="1033.8" y1="813.66" x2="1040.1" y2="813.66" stroke="#000" stroke-width="1.7"/>
<rect x="995.5" y="829.33" width="11.7" height="15.8" fill="#D61F1F"/>
<rect x="1040.1" y="829.33" width="176" height="15.8" fill="#3577AF"/>
<rect x="1012.9" y="826.1" width="20.9" height="19.3" fill="#3577AF"/>
<text x="1023.35" y="841.35" font-size="15" text-anchor="middle">6</text>
<line x1="1007.2" y1="837.23" x2="1012.9" y2="837.23" stroke="#000" stroke-width="1.7"/>
<line x1="1033.8" y1="837.23" x2="1040.1" y2="837.23" stroke="#000" stroke-width="1.7"/>
<rect x="966.8" y="852.89" width="40.4" height="15.8" fill="#D61F1F"/>
<rect x="1040.1" y="852.89" width="173.8" height="15.8" fill="#3577AF"/>
<rect x="1012.9" y="849.75" width="20.9" height="19.3" fill="#3577AF"/>
<text x="1023.35" y="865" font-size="15" text-anchor="middle">7</text>
<line x1="1007.2" y1="860.79" x2="1012.9" y2="860.79" stroke="#000" stroke-width="1.7"/>
<line x1="1033.8" y1="860.79" x2="1040.1" y2="860.79" stroke="#000" stroke-width="1.7"/>
<rect x="972.4" y="876.46" width="34.8" height="15.8" fill="#D61F1F"/>
<rect x="1040.1" y="876.46" width="159.9" height="15.8" fill="#3577AF"/>
<rect x="1012.9" y="873.4" width="20.9" height="19.3" fill="#3577AF"/>
<text x="1023.35" y="888.65" font-size="15" text-anchor="middle">8</text>
<line x1="1007.2" y1="884.36" x2="1012.9" y2="884.36" stroke="#000" stroke-width="1.7"/>
<line x1="1033.8" y1="884.36" x2="1040.1" y2="884.36" stroke="#000" stroke-width="1.7"/>
<rect x="1005" y="900.02" width="2.2" height="15.8" fill="#D61F1F"/>
<rect x="1040.1" y="900.02" width="135" height="15.8" fill="#3577AF"/>
<rect x="1012.9" y="897.05" width="20.9" height="19.3" fill="#3577AF"/>
<text x="1023.35" y="912.3" font-size="15" text-anchor="middle">9</text>
<line x1="1007.2" y1="907.92" x2="1012.9" y2="907.92" stroke="#000" stroke-width="1.7"/>
<line x1="1033.8" y1="907.92" x2="1040.1" y2="907.92" stroke="#000" stroke-width="1.7"/>
<rect x="1000.7" y="923.59" width="6.5" height="15.8" fill="#D61F1F"/>
<rect x="1040.1" y="923.59" width="131.8" height="15.8" fill="#3577AF"/>
<rect x="1012.9" y="920.7" width="20.9" height="19.3" fill="#3577AF"/>
<text x="1023.35" y="935.95" font-size="15" text-anchor="middle">10</text>
<line x1="1007.2" y1="931.49" x2="1012.9" y2="931.49" stroke="#000" stroke-width="1.7"/>
<line x1="1033.8" y1="931.49" x2="1040.1" y2="931.49" stroke="#000" stroke-width="1.7"/>
<rect x="979.3" y="947.15" width="27.9" height="15.8" fill="#D61F1F"/>
<rect x="1040.1" y="947.15" width="122.5" height="15.8" fill="#3577AF"/>
<rect x="1012.9" y="944.35" width="20.9" height="19.3" fill="#3577AF"/>
<text x="1023.35" y="959.6" font-size="15" text-anchor="middle">11</text>
<line x1="1007.2" y1="955.05" x2="1012.9" y2="955.05" stroke="#000" stroke-width="1.7"/>
<line x1="1033.8" y1="955.05" x2="1040.1" y2="955.05" stroke="#000" stroke-width="1.7"/>
<rect x="998.6" y="970.72" width="8.6" height="15.8" fill="#D61F1F"/>
<rect x="1040.1" y="970.72" width="109.3" height="15.8" fill="#3577AF"/>
<rect x="1012.9" y="968" width="20.9" height="19.3" fill="#3577AF"/>
<text x="1023.35" y="983.25" font-size="15" text-anchor="middle">12</text>
<line x1="1007.2" y1="978.62" x2="1012.9" y2="978.62" stroke="#000" stroke-width="1.7"/>
<line x1="1033.8" y1="978.62" x2="1040.1" y2="978.62" stroke="#000" stroke-width="1.7"/>
<rect x="1006" y="994.28" width="1.2" height="15.8" fill="#D61F1F"/>
<rect x="1040.1" y="994.28" width="81.9" height="15.8" fill="#3577AF"/>
<rect x="1012.9" y="991.65" width="20.9" height="19.3" fill="#3577AF"/>
<text x="1023.35" y="1006.9" font-size="15" text-anchor="middle">13</text>
<line x1="1007.2" y1="1002.18" x2="1012.9" y2="1002.18" stroke="#000" stroke-width="1.7"/>
<line x1="1033.8" y1="1002.18" x2="1040.1" y2="1002.18" stroke="#000" stroke-width="1.7"/>
<rect x="998.6" y="1017.84" width="8.6" height="15.8" fill="#D61F1F"/>
<rect x="1040.1" y="1017.84" width="83.4" height="15.8" fill="#3577AF"/>
<rect x="1012.9" y="1015.3" width="20.9" height="19.3" fill="#3577AF"/>
<text x="1023.35" y="1030.55" font-size="15" text-anchor="middle">14</text>
<line x1="1007.2" y1="1025.74" x2="1012.9" y2="1025.74" stroke="#000" stroke-width="1.7"/>
<line x1="1033.8" y1="1025.74" x2="1040.1" y2="1025.74" stroke="#000" stroke-width="1.7"/>
<rect x="1005" y="1041.41" width="2.2" height="15.8" fill="#D61F1F"/>
<rect x="1040.1" y="1041.41" width="37.5" height="15.8" fill="#3577AF"/>
<rect x="1012.9" y="1038.95" width="20.9" height="19.3" fill="#3577AF"/>
<text x="1023.35" y="1054.2" font-size="15" text-anchor="middle">15</text>
<line x1="1007.2" y1="1049.31" x2="1012.9" y2="1049.31" stroke="#000" stroke-width="1.7"/>
<line x1="1033.8" y1="1049.31" x2="1040.1" y2="1049.31" stroke="#000" stroke-width="1.7"/>
<rect x="871.2" y="1064.72" width="136" height="16.8" fill="url(#hr)"/>
<rect x="1040.1" y="1064.72" width="160.2" height="16.8" fill="url(#hb)"/>
<rect x="1012.9" y="1062.6" width="20.9" height="19.3" fill="#A0A0A0"/>
<text x="1023.35" y="1077.85" font-size="15" text-anchor="middle">C1</text>
<line x1="1007.2" y1="1072.88" x2="1012.9" y2="1072.88" stroke="#000" stroke-width="1.7"/>
<line x1="1033.8" y1="1072.88" x2="1040.1" y2="1072.88" stroke="#000" stroke-width="1.7"/>
<rect x="1001.8" y="1088.29" width="5.4" height="16.8" fill="url(#hr)"/>
<rect x="1040.1" y="1088.29" width="115.9" height="16.8" fill="url(#hb)"/>
<rect x="1012.9" y="1086.25" width="20.9" height="19.3" fill="#A0A0A0"/>
<text x="1023.35" y="1101.5" font-size="15" text-anchor="middle">C2</text>
<line x1="1007.2" y1="1096.44" x2="1012.9" y2="1096.44" stroke="#000" stroke-width="1.7"/>
<line x1="1033.8" y1="1096.44" x2="1040.1" y2="1096.44" stroke="#000" stroke-width="1.7"/>
<rect x="1004.5" y="1111.86" width="2.7" height="16.8" fill="url(#hr)"/>
<rect x="1040.1" y="1111.86" width="86.6" height="16.8" fill="url(#hb)"/>
<rect x="1012.9" y="1109.9" width="20.9" height="19.3" fill="#A0A0A0"/>
<text x="1023.35" y="1125.15" font-size="15" text-anchor="middle">C3</text>
<line x1="1007.2" y1="1120.01" x2="1012.9" y2="1120.01" stroke="#000" stroke-width="1.7"/>
<line x1="1033.8" y1="1120.01" x2="1040.1" y2="1120.01" stroke="#000" stroke-width="1.7"/>
<rect x="1006.3" y="1135.42" width="0.9" height="16.8" fill="url(#hr)"/>
<rect x="1040.1" y="1135.42" width="19.9" height="16.8" fill="url(#hb)"/>
<rect x="1012.9" y="1133.55" width="20.9" height="19.3" fill="#A0A0A0"/>
<text x="1023.35" y="1148.8" font-size="15" text-anchor="middle">C4</text>
<line x1="1007.2" y1="1143.57" x2="1012.9" y2="1143.57" stroke="#000" stroke-width="1.7"/>
<line x1="1033.8" y1="1143.57" x2="1040.1" y2="1143.57" stroke="#000" stroke-width="1.7"/>
<rect x="1006.3" y="1158.98" width="0.9" height="16.8" fill="url(#hr)"/>
<rect x="1040.1" y="1158.98" width="2.1" height="16.8" fill="url(#hb)"/>
<rect x="1012.9" y="1157.2" width="20.9" height="19.3" fill="#A0A0A0"/>
<text x="1023.35" y="1172.45" font-size="15" text-anchor="middle">C5</text>
<line x1="1007.2" y1="1167.13" x2="1012.9" y2="1167.13" stroke="#000" stroke-width="1.7"/>
<line x1="1033.8" y1="1167.13" x2="1040.1" y2="1167.13" stroke="#000" stroke-width="1.7"/>
<rect x="1006.3" y="1182.55" width="0.9" height="16.8" fill="url(#hr)"/>
<rect x="1040.1" y="1182.55" width="2.1" height="16.8" fill="url(#hb)"/>
<rect x="1012.9" y="1180.85" width="20.9" height="19.3" fill="#A0A0A0"/>
<text x="1023.35" y="1196.1" font-size="15" text-anchor="middle">C6</text>
<line x1="1007.2" y1="1190.7" x2="1012.9" y2="1190.7" stroke="#000" stroke-width="1.7"/>
<line x1="1033.8" y1="1190.7" x2="1040.1" y2="1190.7" stroke="#000" stroke-width="1.7"/>
<rect x="756.1" y="1206.36" width="251.1" height="15.8" fill="#A0A0A0"/>
<rect x="1040.1" y="1206.36" width="250.8" height="15.8" fill="#A0A0A0"/>
<rect x="1012.9" y="1204.5" width="20.9" height="19.3" fill="#C8C8C8"/>
<text x="1023.35" y="1218.45" font-size="12" letter-spacing="0.5" text-anchor="middle">PC</text>
<line x1="1007.2" y1="1214.26" x2="1012.9" y2="1214.26" stroke="#000" stroke-width="1.7"/>
<line x1="1033.8" y1="1214.26" x2="1040.1" y2="1214.26" stroke="#000" stroke-width="1.7"/>
<rect x="1012.9" y="1228.15" width="20.9" height="19.3" fill="#C8C8C8"/>
<text x="1023.35" y="1242.1" font-size="12" letter-spacing="0.5" text-anchor="middle">NC</text>
<line x1="1007.2" y1="1237.83" x2="1012.9" y2="1237.83" stroke="#000" stroke-width="1.7"/>
<line x1="1033.8" y1="1237.83" x2="1040.1" y2="1237.83" stroke="#000" stroke-width="1.7"/>
<line x1="1007.2" y1="702" x2="1007.2" y2="1254.6" stroke="#000" stroke-width="2.1"/>
<line x1="1040.1" y1="702" x2="1040.1" y2="1254.6" stroke="#000" stroke-width="2.1"/>
<line x1="706" y1="1253.6" x2="1008.2" y2="1253.6" stroke="#000" stroke-width="2.1"/>
<line x1="1039.1" y1="1253.6" x2="1341.3" y2="1253.6" stroke="#000" stroke-width="2.1"/>
<line x1="1007.2" y1="1253.6" x2="1007.2" y2="1261.9" stroke="#000" stroke-width="2"/>
<text x="1006.2" y="1284.4" font-size="24" text-anchor="middle">0</text>
<line x1="1040.1" y1="1253.6" x2="1040.1" y2="1261.9" stroke="#000" stroke-width="2"/>
<text x="1040.25" y="1284.4" font-size="24" text-anchor="middle">0</text>
<line x1="957" y1="1253.6" x2="957" y2="1261.9" stroke="#000" stroke-width="2"/>
<text x="956.2" y="1284.4" font-size="24" text-anchor="middle">20</text>
<line x1="1090.3" y1="1253.6" x2="1090.3" y2="1261.9" stroke="#000" stroke-width="2"/>
<text x="1091.45" y="1284.4" font-size="24" text-anchor="middle">20</text>
<line x1="906.8" y1="1253.6" x2="906.8" y2="1261.9" stroke="#000" stroke-width="2"/>
<text x="908.75" y="1284.4" font-size="24" text-anchor="middle">40</text>
<line x1="1140.5" y1="1253.6" x2="1140.5" y2="1261.9" stroke="#000" stroke-width="2"/>
<text x="1139.65" y="1284.4" font-size="24" text-anchor="middle">40</text>
<line x1="856.6" y1="1253.6" x2="856.6" y2="1261.9" stroke="#000" stroke-width="2"/>
<text x="856.95" y="1284.4" font-size="24" text-anchor="middle">60</text>
<line x1="1190.7" y1="1253.6" x2="1190.7" y2="1261.9" stroke="#000" stroke-width="2"/>
<text x="1190.15" y="1284.4" font-size="24" text-anchor="middle">60</text>
<line x1="806.4" y1="1253.6" x2="806.4" y2="1261.9" stroke="#000" stroke-width="2"/>
<text x="806.75" y="1284.4" font-size="24" text-anchor="middle">80</text>
<line x1="1240.9" y1="1253.6" x2="1240.9" y2="1261.9" stroke="#000" stroke-width="2"/>
<text x="1241.45" y="1284.4" font-size="24" text-anchor="middle">80</text>
<line x1="756.2" y1="1253.6" x2="756.2" y2="1261.9" stroke="#000" stroke-width="2"/>
<text x="756.15" y="1284.4" font-size="24" text-anchor="middle">100</text>
<line x1="1291.1" y1="1253.6" x2="1291.1" y2="1261.9" stroke="#000" stroke-width="2"/>
<text x="1289.6" y="1284.4" font-size="24" text-anchor="middle">100</text>
<line x1="706" y1="1253.6" x2="706" y2="1261.9" stroke="#000" stroke-width="2"/>
<text x="707.55" y="1284.4" font-size="24" text-anchor="middle">120</text>
<line x1="1341.3" y1="1253.6" x2="1341.3" y2="1261.9" stroke="#000" stroke-width="2"/>
<text x="1340.2" y="1284.4" font-size="24" text-anchor="middle">120</text>
<circle cx="1002" cy="713.5" r="4.3"/>
<circle cx="1003" cy="719.5" r="4.3"/>
<circle cx="1001.5" cy="725.5" r="4.3"/>
<circle cx="989.6" cy="737.2" r="4.3"/>
<circle cx="990.6" cy="743.1" r="4.3"/>
<circle cx="989.6" cy="749" r="4.3"/>
<circle cx="964.8" cy="760.3" r="4.3"/>
<circle cx="966.8" cy="766.9" r="4.3"/>
<circle cx="964.2" cy="773.1" r="4.3"/>
<circle cx="978.5" cy="784.2" r="4.3"/>
<circle cx="979.7" cy="790.1" r="4.3"/>
<circle cx="978.1" cy="796.4" r="4.3"/>
<circle cx="997.5" cy="807.7" r="4.3"/>
<circle cx="998.5" cy="813.9" r="4.3"/>
<circle cx="997.1" cy="819.9" r="4.3"/>
<circle cx="992.2" cy="831.2" r="4.3"/>
<circle cx="993" cy="837.1" r="4.3"/>
<circle cx="991.6" cy="843.4" r="4.3"/>
<circle cx="963.5" cy="854.7" r="4.3"/>
<circle cx="965.3" cy="860.9" r="4.3"/>
<circle cx="962.9" cy="866.9" r="4.3"/>
<circle cx="971" cy="878.6" r="4.3"/>
<circle cx="971.4" cy="884.1" r="4.3"/>
<circle cx="968.7" cy="890.4" r="4.3"/>
<circle cx="1002.8" cy="901.7" r="4.3"/>
<circle cx="1003.4" cy="907.5" r="4.3"/>
<circle cx="1002.6" cy="913.9" r="4.3"/>
<circle cx="996.6" cy="925.2" r="4.3"/>
<circle cx="997.3" cy="931.4" r="4.3"/>
<circle cx="996.6" cy="937.6" r="4.3"/>
<circle cx="975.9" cy="948.9" r="4.3"/>
<circle cx="976.6" cy="954.8" r="4.3"/>
<circle cx="975.6" cy="961" r="4.3"/>
<circle cx="994.5" cy="972.8" r="4.3"/>
<circle cx="995.1" cy="979" r="4.3"/>
<circle cx="994.3" cy="985.2" r="4.3"/>
<circle cx="1004.6" cy="996.2" r="4.3"/>
<circle cx="1005.2" cy="1002.1" r="4.3"/>
<circle cx="1004.4" cy="1008.2" r="4.3"/>
<circle cx="994.5" cy="1019.7" r="4.3"/>
<circle cx="995" cy="1025.9" r="4.3"/>
<circle cx="994.3" cy="1032.1" r="4.3"/>
<circle cx="1002.8" cy="1043.1" r="4.3"/>
<circle cx="1003.3" cy="1049.3" r="4.3"/>
<circle cx="1002.6" cy="1055.5" r="4.3"/>
<circle cx="868.2" cy="1069" r="4.3"/>
<circle cx="880.8" cy="1073.2" r="4.3"/>
<circle cx="865.9" cy="1077.4" r="4.3"/>
<circle cx="996.9" cy="1090.4" r="4.3"/>
<circle cx="997.6" cy="1096.5" r="4.3"/>
<circle cx="996.6" cy="1102.6" r="4.3"/>
<circle cx="1000.3" cy="1114" r="4.3"/>
<circle cx="1001" cy="1119.8" r="4.3"/>
<circle cx="1000.1" cy="1126.2" r="4.3"/>
<circle cx="1005" cy="1136.8" r="4.3"/>
<circle cx="1005.5" cy="1142.9" r="4.3"/>
<circle cx="1004.8" cy="1149.3" r="4.3"/>
<circle cx="1005.8" cy="1160.9" r="4.3"/>
<circle cx="1006.2" cy="1167" r="4.3"/>
<circle cx="1005.6" cy="1173.1" r="4.3"/>
<circle cx="1004.5" cy="1184.1" r="4.3"/>
<circle cx="1005.2" cy="1190.2" r="4.3"/>
<circle cx="1004.4" cy="1196.6" r="4.3"/>
<circle cx="751.1" cy="1214.6" r="4.3"/>
<circle cx="755.6" cy="1214.6" r="4.3"/>
<circle cx="761.9" cy="1214.6" r="4.3"/>
<circle cx="1005.3" cy="1231.3" r="4.3"/>
<circle cx="1005.8" cy="1237.7" r="4.3"/>
<circle cx="1005.3" cy="1244.2" r="4.3"/>
<circle cx="1296.7" cy="715.4" r="4.3"/>
<circle cx="1293.1" cy="723.5" r="4.3"/>
<circle cx="1298.2" cy="723.5" r="4.3"/>
<circle cx="1250.6" cy="739.3" r="4.3"/>
<circle cx="1254.5" cy="743.2" r="4.3"/>
<circle cx="1249.6" cy="747.2" r="4.3"/>
<circle cx="1237.4" cy="763" r="4.3"/>
<circle cx="1234.5" cy="770.8" r="4.3"/>
<circle cx="1239.9" cy="770.8" r="4.3"/>
<circle cx="1235.9" cy="786.5" r="4.3"/>
<circle cx="1229.3" cy="790.4" r="4.3"/>
<circle cx="1239.9" cy="794.2" r="4.3"/>
<circle cx="1227.9" cy="807.7" r="4.3"/>
<circle cx="1230.1" cy="813.6" r="4.3"/>
<circle cx="1227.1" cy="819.9" r="4.3"/>
<circle cx="1216.9" cy="833.4" r="4.3"/>
<circle cx="1212.2" cy="837.3" r="4.3"/>
<circle cx="1218.6" cy="841.4" r="4.3"/>
<circle cx="1216.6" cy="856.8" r="4.3"/>
<circle cx="1205.9" cy="860.9" r="4.3"/>
<circle cx="1218.3" cy="864.9" r="4.3"/>
<circle cx="1199.3" cy="880.6" r="4.3"/>
<circle cx="1205.1" cy="884.7" r="4.3"/>
<circle cx="1197.8" cy="888.8" r="4.3"/>
<circle cx="1178.8" cy="901.7" r="4.3"/>
<circle cx="1179.5" cy="908" r="4.3"/>
<circle cx="1178.6" cy="914.2" r="4.3"/>
<circle cx="1172.9" cy="927.8" r="4.3"/>
<circle cx="1166.3" cy="931.8" r="4.3"/>
<circle cx="1175.5" cy="935.9" r="4.3"/>
<circle cx="1166" cy="949.4" r="4.3"/>
<circle cx="1166.8" cy="955.2" r="4.3"/>
<circle cx="1165.6" cy="961.5" r="4.3"/>
<circle cx="1153.1" cy="972.5" r="4.3"/>
<circle cx="1153.8" cy="978.7" r="4.3"/>
<circle cx="1152.8" cy="985" r="4.3"/>
<circle cx="1125.3" cy="996.3" r="4.3"/>
<circle cx="1125.9" cy="1002.4" r="4.3"/>
<circle cx="1125" cy="1008.4" r="4.3"/>
<circle cx="1120.9" cy="1021.9" r="4.3"/>
<circle cx="1131.9" cy="1026" r="4.3"/>
<circle cx="1118.7" cy="1030" r="4.3"/>
<circle cx="1081" cy="1043.2" r="4.3"/>
<circle cx="1081.8" cy="1049.5" r="4.3"/>
<circle cx="1080.8" cy="1055.6" r="4.3"/>
<circle cx="1204.1" cy="1067" r="4.3"/>
<circle cx="1204.9" cy="1073.2" r="4.3"/>
<circle cx="1203.6" cy="1079.1" r="4.3"/>
<circle cx="1159.4" cy="1090.5" r="4.3"/>
<circle cx="1161.9" cy="1096.6" r="4.3"/>
<circle cx="1158.7" cy="1102.8" r="4.3"/>
<circle cx="1129.4" cy="1116.4" r="4.3"/>
<circle cx="1126.7" cy="1124.2" r="4.3"/>
<circle cx="1131.9" cy="1124.2" r="4.3"/>
<circle cx="1063.7" cy="1137.7" r="4.3"/>
<circle cx="1065.2" cy="1143.8" r="4.3"/>
<circle cx="1062" cy="1150.1" r="4.3"/>
<circle cx="1046.4" cy="1161.1" r="4.3"/>
<circle cx="1046.9" cy="1167" r="4.3"/>
<circle cx="1046.4" cy="1173.1" r="4.3"/>
<circle cx="1046.1" cy="1184.9" r="4.3"/>
<circle cx="1046.6" cy="1190.7" r="4.3"/>
<circle cx="1046.1" cy="1197" r="4.3"/>
<circle cx="1282.8" cy="1214.6" r="4.3"/>
<circle cx="1290.2" cy="1214.6" r="4.3"/>
<circle cx="1299.4" cy="1214.6" r="4.3"/>
<circle cx="1043.9" cy="1231.5" r="4.3"/>
<circle cx="1044.4" cy="1238.1" r="4.3"/>
<circle cx="1043.9" cy="1243.9" r="4.3"/>
<text x="1032.4" y="1336.2" font-size="32.4" text-anchor="middle" textLength="347.3" lengthAdjust="spacing"><tspan font-style="italic">P. aeruginosa</tspan>-preferred</text>
<text x="1034.1" y="1376.4" font-size="31.3" text-anchor="middle" fill="#231815" textLength="314.3" lengthAdjust="spacing">Relative fluorescence</text>
<text x="1682" y="692.7" font-size="33.8" font-style="italic" text-anchor="end">E. coli</text>
<text x="1738.3" y="692.7" font-size="33.8" font-style="italic">P. aeruginosa</text>
<rect x="1440" y="712.5" width="256.5" height="15.8" fill="#D61F1F"/>
<rect x="1729.1" y="712.5" width="134.3" height="15.8" fill="#3577AF"/>
<rect x="1702.9" y="708.55" width="21" height="19.3" fill="#EBCDCD"/>
<text x="1713.4" y="723.8" font-size="15" text-anchor="middle">1</text>
<line x1="1696.5" y1="720.4" x2="1702.9" y2="720.4" stroke="#000" stroke-width="1.7"/>
<line x1="1723.9" y1="720.4" x2="1729.1" y2="720.4" stroke="#000" stroke-width="1.7"/>
<rect x="1449.9" y="736.07" width="246.6" height="15.8" fill="#D61F1F"/>
<rect x="1729.1" y="736.07" width="17" height="15.8" fill="#3577AF"/>
<rect x="1702.9" y="732.2" width="21" height="19.3" fill="#EBCDCD"/>
<text x="1713.4" y="747.45" font-size="15" text-anchor="middle">2</text>
<line x1="1696.5" y1="743.97" x2="1702.9" y2="743.97" stroke="#000" stroke-width="1.7"/>
<line x1="1723.9" y1="743.97" x2="1729.1" y2="743.97" stroke="#000" stroke-width="1.7"/>
<rect x="1453.2" y="759.63" width="243.3" height="15.8" fill="#D61F1F"/>
<rect x="1729.1" y="759.63" width="56.9" height="15.8" fill="#3577AF"/>
<rect x="1702.9" y="755.85" width="21" height="19.3" fill="#EBCDCD"/>
<text x="1713.4" y="771.1" font-size="15" text-anchor="middle">3</text>
<line x1="1696.5" y1="767.53" x2="1702.9" y2="767.53" stroke="#000" stroke-width="1.7"/>
<line x1="1723.9" y1="767.53" x2="1729.1" y2="767.53" stroke="#000" stroke-width="1.7"/>
<rect x="1456.6" y="783.2" width="239.9" height="15.8" fill="#D61F1F"/>
<rect x="1729.1" y="783.2" width="152.7" height="15.8" fill="#3577AF"/>
<rect x="1702.9" y="779.5" width="21" height="19.3" fill="#EBCDCD"/>
<text x="1713.4" y="794.75" font-size="15" text-anchor="middle">4</text>
<line x1="1696.5" y1="791.1" x2="1702.9" y2="791.1" stroke="#000" stroke-width="1.7"/>
<line x1="1723.9" y1="791.1" x2="1729.1" y2="791.1" stroke="#000" stroke-width="1.7"/>
<rect x="1459.4" y="806.76" width="237.1" height="15.8" fill="#D61F1F"/>
<rect x="1729.1" y="806.76" width="117.2" height="15.8" fill="#3577AF"/>
<rect x="1702.9" y="803.15" width="21" height="19.3" fill="#EBCDCD"/>
<text x="1713.4" y="818.4" font-size="15" text-anchor="middle">5</text>
<line x1="1696.5" y1="814.66" x2="1702.9" y2="814.66" stroke="#000" stroke-width="1.7"/>
<line x1="1723.9" y1="814.66" x2="1729.1" y2="814.66" stroke="#000" stroke-width="1.7"/>
<rect x="1505.3" y="830.33" width="191.2" height="15.8" fill="#D61F1F"/>
<rect x="1729.1" y="830.33" width="153.5" height="15.8" fill="#3577AF"/>
<rect x="1702.9" y="826.8" width="21" height="19.3" fill="#EBCDCD"/>
<text x="1713.4" y="842.05" font-size="15" text-anchor="middle">6</text>
<line x1="1696.5" y1="838.23" x2="1702.9" y2="838.23" stroke="#000" stroke-width="1.7"/>
<line x1="1723.9" y1="838.23" x2="1729.1" y2="838.23" stroke="#000" stroke-width="1.7"/>
<rect x="1551.4" y="853.89" width="145.1" height="15.8" fill="#D61F1F"/>
<rect x="1729.1" y="853.89" width="54.8" height="15.8" fill="#3577AF"/>
<rect x="1702.9" y="850.45" width="21" height="19.3" fill="#EBCDCD"/>
<text x="1713.4" y="865.7" font-size="15" text-anchor="middle">7</text>
<line x1="1696.5" y1="861.79" x2="1702.9" y2="861.79" stroke="#000" stroke-width="1.7"/>
<line x1="1723.9" y1="861.79" x2="1729.1" y2="861.79" stroke="#000" stroke-width="1.7"/>
<rect x="1593.2" y="877.46" width="103.3" height="15.8" fill="#D61F1F"/>
<rect x="1729.1" y="877.46" width="9.8" height="15.8" fill="#3577AF"/>
<rect x="1702.9" y="874.1" width="21" height="19.3" fill="#EBCDCD"/>
<text x="1713.4" y="889.35" font-size="15" text-anchor="middle">8</text>
<line x1="1696.5" y1="885.36" x2="1702.9" y2="885.36" stroke="#000" stroke-width="1.7"/>
<line x1="1723.9" y1="885.36" x2="1729.1" y2="885.36" stroke="#000" stroke-width="1.7"/>
<rect x="1615.2" y="901.02" width="81.3" height="15.8" fill="#D61F1F"/>
<rect x="1729.1" y="901.02" width="37.3" height="15.8" fill="#3577AF"/>
<rect x="1702.9" y="897.75" width="21" height="19.3" fill="#EBCDCD"/>
<text x="1713.4" y="913" font-size="15" text-anchor="middle">9</text>
<line x1="1696.5" y1="908.92" x2="1702.9" y2="908.92" stroke="#000" stroke-width="1.7"/>
<line x1="1723.9" y1="908.92" x2="1729.1" y2="908.92" stroke="#000" stroke-width="1.7"/>
<rect x="1641.6" y="924.59" width="54.9" height="15.8" fill="#D61F1F"/>
<rect x="1729.1" y="924.59" width="5.4" height="15.8" fill="#3577AF"/>
<rect x="1702.9" y="921.4" width="21" height="19.3" fill="#EBCDCD"/>
<text x="1713.4" y="936.65" font-size="15" text-anchor="middle">10</text>
<line x1="1696.5" y1="932.49" x2="1702.9" y2="932.49" stroke="#000" stroke-width="1.7"/>
<line x1="1723.9" y1="932.49" x2="1729.1" y2="932.49" stroke="#000" stroke-width="1.7"/>
<rect x="1644.5" y="948.15" width="52" height="15.8" fill="#D61F1F"/>
<rect x="1729.1" y="948.15" width="41" height="15.8" fill="#3577AF"/>
<rect x="1702.9" y="945.05" width="21" height="19.3" fill="#EBCDCD"/>
<text x="1713.4" y="960.3" font-size="15" text-anchor="middle">11</text>
<line x1="1696.5" y1="956.05" x2="1702.9" y2="956.05" stroke="#000" stroke-width="1.7"/>
<line x1="1723.9" y1="956.05" x2="1729.1" y2="956.05" stroke="#000" stroke-width="1.7"/>
<rect x="1649.6" y="971.72" width="46.9" height="15.8" fill="#D61F1F"/>
<rect x="1729.1" y="971.72" width="2.5" height="15.8" fill="#3577AF"/>
<rect x="1702.9" y="968.7" width="21" height="19.3" fill="#EBCDCD"/>
<text x="1713.4" y="983.95" font-size="15" text-anchor="middle">12</text>
<line x1="1696.5" y1="979.62" x2="1702.9" y2="979.62" stroke="#000" stroke-width="1.7"/>
<line x1="1723.9" y1="979.62" x2="1729.1" y2="979.62" stroke="#000" stroke-width="1.7"/>
<rect x="1652.6" y="995.28" width="43.9" height="15.8" fill="#D61F1F"/>
<rect x="1729.1" y="995.28" width="1.3" height="15.8" fill="#3577AF"/>
<rect x="1702.9" y="992.35" width="21" height="19.3" fill="#EBCDCD"/>
<text x="1713.4" y="1007.6" font-size="15" text-anchor="middle">13</text>
<line x1="1696.5" y1="1003.18" x2="1702.9" y2="1003.18" stroke="#000" stroke-width="1.7"/>
<line x1="1723.9" y1="1003.18" x2="1729.1" y2="1003.18" stroke="#000" stroke-width="1.7"/>
<rect x="1662.8" y="1018.84" width="33.7" height="15.8" fill="#D61F1F"/>
<rect x="1729.1" y="1018.84" width="29.4" height="15.8" fill="#3577AF"/>
<rect x="1702.9" y="1016" width="21" height="19.3" fill="#EBCDCD"/>
<text x="1713.4" y="1031.25" font-size="15" text-anchor="middle">14</text>
<line x1="1696.5" y1="1026.74" x2="1702.9" y2="1026.74" stroke="#000" stroke-width="1.7"/>
<line x1="1723.9" y1="1026.74" x2="1729.1" y2="1026.74" stroke="#000" stroke-width="1.7"/>
<rect x="1672.3" y="1042.41" width="24.2" height="15.8" fill="#D61F1F"/>
<rect x="1729.1" y="1042.41" width="6.9" height="15.8" fill="#3577AF"/>
<rect x="1702.9" y="1039.65" width="21" height="19.3" fill="#EBCDCD"/>
<text x="1713.4" y="1054.9" font-size="15" text-anchor="middle">15</text>
<line x1="1696.5" y1="1050.31" x2="1702.9" y2="1050.31" stroke="#000" stroke-width="1.7"/>
<line x1="1723.9" y1="1050.31" x2="1729.1" y2="1050.31" stroke="#000" stroke-width="1.7"/>
<rect x="1438.1" y="1065.72" width="258.4" height="16.8" fill="url(#hr)"/>
<rect x="1729.1" y="1065.72" width="153.5" height="16.8" fill="url(#hb)"/>
<rect x="1702.9" y="1063.3" width="21" height="19.3" fill="#EBEBEB"/>
<text x="1713.4" y="1078.55" font-size="15" text-anchor="middle">C1</text>
<line x1="1696.5" y1="1073.88" x2="1702.9" y2="1073.88" stroke="#000" stroke-width="1.7"/>
<line x1="1723.9" y1="1073.88" x2="1729.1" y2="1073.88" stroke="#000" stroke-width="1.7"/>
<rect x="1496.5" y="1089.29" width="200" height="16.8" fill="url(#hr)"/>
<rect x="1729.1" y="1089.29" width="37.3" height="16.8" fill="url(#hb)"/>
<rect x="1702.9" y="1086.95" width="21" height="19.3" fill="#EBEBEB"/>
<text x="1713.4" y="1102.2" font-size="15" text-anchor="middle">C2</text>
<line x1="1696.5" y1="1097.44" x2="1702.9" y2="1097.44" stroke="#000" stroke-width="1.7"/>
<line x1="1723.9" y1="1097.44" x2="1729.1" y2="1097.44" stroke="#000" stroke-width="1.7"/>
<rect x="1510.1" y="1112.86" width="186.4" height="16.8" fill="url(#hr)"/>
<rect x="1729.1" y="1112.86" width="18.5" height="16.8" fill="url(#hb)"/>
<rect x="1702.9" y="1110.6" width="21" height="19.3" fill="#EBEBEB"/>
<text x="1713.4" y="1125.85" font-size="15" text-anchor="middle">C3</text>
<line x1="1696.5" y1="1121.01" x2="1702.9" y2="1121.01" stroke="#000" stroke-width="1.7"/>
<line x1="1723.9" y1="1121.01" x2="1729.1" y2="1121.01" stroke="#000" stroke-width="1.7"/>
<rect x="1525.8" y="1136.42" width="170.7" height="16.8" fill="url(#hr)"/>
<rect x="1729.1" y="1136.42" width="22.1" height="16.8" fill="url(#hb)"/>
<rect x="1702.9" y="1134.25" width="21" height="19.3" fill="#EBEBEB"/>
<text x="1713.4" y="1149.5" font-size="15" text-anchor="middle">C4</text>
<line x1="1696.5" y1="1144.57" x2="1702.9" y2="1144.57" stroke="#000" stroke-width="1.7"/>
<line x1="1723.9" y1="1144.57" x2="1729.1" y2="1144.57" stroke="#000" stroke-width="1.7"/>
<rect x="1562.4" y="1159.98" width="134.1" height="16.8" fill="url(#hr)"/>
<rect x="1729.1" y="1159.98" width="17.8" height="16.8" fill="url(#hb)"/>
<rect x="1702.9" y="1157.9" width="21" height="19.3" fill="#EBEBEB"/>
<text x="1713.4" y="1173.15" font-size="15" text-anchor="middle">C5</text>
<line x1="1696.5" y1="1168.13" x2="1702.9" y2="1168.13" stroke="#000" stroke-width="1.7"/>
<line x1="1723.9" y1="1168.13" x2="1729.1" y2="1168.13" stroke="#000" stroke-width="1.7"/>
<rect x="1651.8" y="1183.55" width="44.7" height="16.8" fill="url(#hr)"/>
<rect x="1729.1" y="1183.55" width="99" height="16.8" fill="url(#hb)"/>
<rect x="1702.9" y="1181.55" width="21" height="19.3" fill="#EBEBEB"/>
<text x="1713.4" y="1196.8" font-size="15" text-anchor="middle">C6</text>
<line x1="1696.5" y1="1191.7" x2="1702.9" y2="1191.7" stroke="#000" stroke-width="1.7"/>
<line x1="1723.9" y1="1191.7" x2="1729.1" y2="1191.7" stroke="#000" stroke-width="1.7"/>
<rect x="1496.5" y="1207.36" width="200" height="15.8" fill="#A0A0A0"/>
<rect x="1729.1" y="1207.36" width="200.5" height="15.8" fill="#A0A0A0"/>
<rect x="1702.9" y="1205.2" width="21" height="19.3" fill="#C8C8C8"/>
<text x="1713.4" y="1219.15" font-size="12" letter-spacing="0.5" text-anchor="middle">PC</text>
<line x1="1696.5" y1="1215.26" x2="1702.9" y2="1215.26" stroke="#000" stroke-width="1.7"/>
<line x1="1723.9" y1="1215.26" x2="1729.1" y2="1215.26" stroke="#000" stroke-width="1.7"/>
<rect x="1702.9" y="1228.85" width="21" height="19.3" fill="#C8C8C8"/>
<text x="1713.4" y="1242.8" font-size="12" letter-spacing="0.5" text-anchor="middle">NC</text>
<line x1="1696.5" y1="1238.83" x2="1702.9" y2="1238.83" stroke="#000" stroke-width="1.7"/>
<line x1="1723.9" y1="1238.83" x2="1729.1" y2="1238.83" stroke="#000" stroke-width="1.7"/>
<line x1="1696.5" y1="702.4" x2="1696.5" y2="1255.2" stroke="#000" stroke-width="2.1"/>
<line x1="1729.1" y1="702.4" x2="1729.1" y2="1255.2" stroke="#000" stroke-width="2.1"/>
<line x1="1395.9" y1="1254.2" x2="1697.5" y2="1254.2" stroke="#000" stroke-width="2.1"/>
<line x1="1728.1" y1="1254.2" x2="2029.7" y2="1254.2" stroke="#000" stroke-width="2.1"/>
<line x1="1696.5" y1="1254.2" x2="1696.5" y2="1262.5" stroke="#000" stroke-width="2"/>
<text x="1695.6" y="1284.4" font-size="24" text-anchor="middle">0</text>
<line x1="1729.1" y1="1254.2" x2="1729.1" y2="1262.5" stroke="#000" stroke-width="2"/>
<text x="1731.45" y="1284.4" font-size="24" text-anchor="middle">0</text>
<line x1="1596.3" y1="1254.2" x2="1596.3" y2="1262.5" stroke="#000" stroke-width="2"/>
<text x="1595.35" y="1284.4" font-size="24" text-anchor="middle">50</text>
<line x1="1829.3" y1="1254.2" x2="1829.3" y2="1262.5" stroke="#000" stroke-width="2"/>
<text x="1830.65" y="1284.4" font-size="24" text-anchor="middle">50</text>
<line x1="1496.1" y1="1254.2" x2="1496.1" y2="1262.5" stroke="#000" stroke-width="2"/>
<text x="1497.2" y="1284.4" font-size="24" text-anchor="middle">100</text>
<line x1="1929.5" y1="1254.2" x2="1929.5" y2="1262.5" stroke="#000" stroke-width="2"/>
<text x="1929.6" y="1284.4" font-size="24" text-anchor="middle">100</text>
<line x1="1395.9" y1="1254.2" x2="1395.9" y2="1262.5" stroke="#000" stroke-width="2"/>
<text x="1395.9" y="1284.4" font-size="24" text-anchor="middle">150</text>
<line x1="2029.7" y1="1254.2" x2="2029.7" y2="1262.5" stroke="#000" stroke-width="2"/>
<text x="2028.7" y="1284.4" font-size="24" text-anchor="middle">150</text>
<line x1="1434.28" y1="720.4" x2="1445.72" y2="720.4" stroke="#000" stroke-width="1"/>
<line x1="1439.54" y1="743.97" x2="1460.26" y2="743.97" stroke="#000" stroke-width="1"/>
<line x1="1452.73" y1="767.53" x2="1453.67" y2="767.53" stroke="#000" stroke-width="1"/>
<line x1="1454.63" y1="791.1" x2="1458.57" y2="791.1" stroke="#000" stroke-width="1"/>
<line x1="1452.66" y1="814.66" x2="1466.14" y2="814.66" stroke="#000" stroke-width="1"/>
<line x1="1499.17" y1="838.23" x2="1511.43" y2="838.23" stroke="#000" stroke-width="1"/>
<line x1="1548.71" y1="861.79" x2="1554.09" y2="861.79" stroke="#000" stroke-width="1"/>
<line x1="1592.15" y1="885.36" x2="1594.25" y2="885.36" stroke="#000" stroke-width="1"/>
<line x1="1614.03" y1="908.92" x2="1616.37" y2="908.92" stroke="#000" stroke-width="1"/>
<line x1="1641.13" y1="932.49" x2="1642.07" y2="932.49" stroke="#000" stroke-width="1"/>
<line x1="1643.24" y1="956.05" x2="1645.76" y2="956.05" stroke="#000" stroke-width="1"/>
<line x1="1649.18" y1="979.62" x2="1650.02" y2="979.62" stroke="#000" stroke-width="1"/>
<line x1="1650.71" y1="1003.18" x2="1654.49" y2="1003.18" stroke="#000" stroke-width="1"/>
<line x1="1661.34" y1="1026.74" x2="1664.26" y2="1026.74" stroke="#000" stroke-width="1"/>
<line x1="1671.94" y1="1050.31" x2="1672.66" y2="1050.31" stroke="#000" stroke-width="1"/>
<line x1="1433.6" y1="1073.88" x2="1442.6" y2="1073.88" stroke="#000" stroke-width="1"/>
<line x1="1495.32" y1="1097.44" x2="1497.68" y2="1097.44" stroke="#000" stroke-width="1"/>
<line x1="1501.99" y1="1121.01" x2="1518.21" y2="1121.01" stroke="#000" stroke-width="1"/>
<line x1="1521.55" y1="1144.57" x2="1530.05" y2="1144.57" stroke="#000" stroke-width="1"/>
<line x1="1559.85" y1="1168.13" x2="1564.95" y2="1168.13" stroke="#000" stroke-width="1"/>
<line x1="1649.72" y1="1191.7" x2="1653.88" y2="1191.7" stroke="#000" stroke-width="1"/>
<line x1="1492.05" y1="1215.26" x2="1500.95" y2="1215.26" stroke="#000" stroke-width="1"/>
<line x1="1857.36" y1="720.4" x2="1869.44" y2="720.4" stroke="#000" stroke-width="1"/>
<line x1="1745.09" y1="743.97" x2="1747.11" y2="743.97" stroke="#000" stroke-width="1"/>
<line x1="1785.3" y1="767.53" x2="1786.7" y2="767.53" stroke="#000" stroke-width="1"/>
<line x1="1880.8" y1="791.1" x2="1882.8" y2="791.1" stroke="#000" stroke-width="1"/>
<line x1="1842.26" y1="814.66" x2="1850.34" y2="814.66" stroke="#000" stroke-width="1"/>
<line x1="1878.93" y1="838.23" x2="1886.27" y2="838.23" stroke="#000" stroke-width="1"/>
<line x1="1783.4" y1="861.79" x2="1784.4" y2="861.79" stroke="#000" stroke-width="1"/>
<line x1="1738.65" y1="885.36" x2="1739.15" y2="885.36" stroke="#000" stroke-width="1"/>
<line x1="1765.68" y1="908.92" x2="1767.12" y2="908.92" stroke="#000" stroke-width="1"/>
<line x1="1734.1" y1="932.49" x2="1734.9" y2="932.49" stroke="#000" stroke-width="1"/>
<line x1="1769.4" y1="956.05" x2="1770.8" y2="956.05" stroke="#000" stroke-width="1"/>
<line x1="1731.2" y1="979.62" x2="1732" y2="979.62" stroke="#000" stroke-width="1"/>
<line x1="1729.84" y1="1003.18" x2="1730.96" y2="1003.18" stroke="#000" stroke-width="1"/>
<line x1="1757.7" y1="1026.74" x2="1759.3" y2="1026.74" stroke="#000" stroke-width="1"/>
<line x1="1735.4" y1="1050.31" x2="1736.6" y2="1050.31" stroke="#000" stroke-width="1"/>
<line x1="1881.78" y1="1073.88" x2="1883.42" y2="1073.88" stroke="#000" stroke-width="1"/>
<line x1="1765.65" y1="1097.44" x2="1767.15" y2="1097.44" stroke="#000" stroke-width="1"/>
<line x1="1746.95" y1="1121.01" x2="1748.25" y2="1121.01" stroke="#000" stroke-width="1"/>
<line x1="1750.5" y1="1144.57" x2="1751.9" y2="1144.57" stroke="#000" stroke-width="1"/>
<line x1="1746.25" y1="1168.13" x2="1747.55" y2="1168.13" stroke="#000" stroke-width="1"/>
<line x1="1827.29" y1="1191.7" x2="1828.91" y2="1191.7" stroke="#000" stroke-width="1"/>
<line x1="1923.29" y1="1215.26" x2="1935.91" y2="1215.26" stroke="#000" stroke-width="1"/>
<circle cx="1443.4" cy="716.4" r="4.3"/>
<circle cx="1433.5" cy="720.5" r="4.3"/>
<circle cx="1443.4" cy="724.6" r="4.3"/>
<circle cx="1440" cy="744" r="4.3"/>
<circle cx="1448.4" cy="744" r="4.3"/>
<circle cx="1460.6" cy="744" r="4.3"/>
<circle cx="1449.6" cy="761.6" r="4.3"/>
<circle cx="1450.3" cy="767.7" r="4.3"/>
<circle cx="1449.4" cy="773.3" r="4.3"/>
<circle cx="1452.5" cy="785" r="4.3"/>
<circle cx="1455.7" cy="791.2" r="4.3"/>
<circle cx="1452.1" cy="797" r="4.3"/>
<circle cx="1452.1" cy="815.1" r="4.3"/>
<circle cx="1460.6" cy="815.1" r="4.3"/>
<circle cx="1465.4" cy="815.1" r="4.3"/>
<circle cx="1506.7" cy="834.1" r="4.3"/>
<circle cx="1497.9" cy="838.5" r="4.3"/>
<circle cx="1509.7" cy="842.5" r="4.3"/>
<circle cx="1548.5" cy="858" r="4.3"/>
<circle cx="1545.1" cy="865.9" r="4.3"/>
<circle cx="1550.4" cy="865.9" r="4.3"/>
<circle cx="1589.5" cy="879.1" r="4.3"/>
<circle cx="1590.6" cy="885.4" r="4.3"/>
<circle cx="1588.5" cy="891.3" r="4.3"/>
<circle cx="1612.6" cy="903.2" r="4.3"/>
<circle cx="1613.4" cy="909.1" r="4.3"/>
<circle cx="1611.1" cy="915.2" r="4.3"/>
<circle cx="1638.2" cy="926.6" r="4.3"/>
<circle cx="1638.9" cy="932.8" r="4.3"/>
<circle cx="1638" cy="938.4" r="4.3"/>
<circle cx="1642.3" cy="950.1" r="4.3"/>
<circle cx="1643.3" cy="956.2" r="4.3"/>
<circle cx="1640.8" cy="962.1" r="4.3"/>
<circle cx="1646" cy="973.5" r="4.3"/>
<circle cx="1646.6" cy="979.7" r="4.3"/>
<circle cx="1645.8" cy="985.6" r="4.3"/>
<circle cx="1650.1" cy="997.3" r="4.3"/>
<circle cx="1652.6" cy="1003.1" r="4.3"/>
<circle cx="1648.9" cy="1009" r="4.3"/>
<circle cx="1660.9" cy="1020.4" r="4.3"/>
<circle cx="1662.1" cy="1027" r="4.3"/>
<circle cx="1659.2" cy="1032.5" r="4.3"/>
<circle cx="1669.1" cy="1044.2" r="4.3"/>
<circle cx="1669.6" cy="1050.5" r="4.3"/>
<circle cx="1668.9" cy="1056.3" r="4.3"/>
<circle cx="1440.3" cy="1070" r="4.3"/>
<circle cx="1433.5" cy="1073.9" r="4.3"/>
<circle cx="1442" cy="1078.3" r="4.3"/>
<circle cx="1494" cy="1091.5" r="4.3"/>
<circle cx="1494.7" cy="1097.8" r="4.3"/>
<circle cx="1492.4" cy="1103.7" r="4.3"/>
<circle cx="1503.4" cy="1121.3" r="4.3"/>
<circle cx="1509.7" cy="1121.3" r="4.3"/>
<circle cx="1519.5" cy="1121.3" r="4.3"/>
<circle cx="1525.1" cy="1140.6" r="4.3"/>
<circle cx="1531.4" cy="1144.7" r="4.3"/>
<circle cx="1523.3" cy="1148.7" r="4.3"/>
<circle cx="1559.8" cy="1164.1" r="4.3"/>
<circle cx="1556.1" cy="1168.5" r="4.3"/>
<circle cx="1561" cy="1172.6" r="4.3"/>
<circle cx="1648.2" cy="1185.7" r="4.3"/>
<circle cx="1651.8" cy="1191.9" r="4.3"/>
<circle cx="1648.2" cy="1197.8" r="4.3"/>
<circle cx="1495.4" cy="1211" r="4.3"/>
<circle cx="1500.9" cy="1215.4" r="4.3"/>
<circle cx="1492.1" cy="1219.5" r="4.3"/>
<circle cx="1695.8" cy="1232.7" r="4.3"/>
<circle cx="1696.3" cy="1238.8" r="4.3"/>
<circle cx="1695.8" cy="1244.7" r="4.3"/>
<circle cx="1865.1" cy="716.3" r="4.3"/>
<circle cx="1856.4" cy="720.3" r="4.3"/>
<circle cx="1868" cy="724.4" r="4.3"/>
<circle cx="1749.8" cy="738" r="4.3"/>
<circle cx="1751" cy="743.5" r="4.3"/>
<circle cx="1749" cy="749.6" r="4.3"/>
<circle cx="1790.1" cy="761.2" r="4.3"/>
<circle cx="1790.8" cy="767.5" r="4.3"/>
<circle cx="1789.4" cy="773.7" r="4.3"/>
<circle cx="1885.5" cy="784.6" r="4.3"/>
<circle cx="1886.5" cy="791" r="4.3"/>
<circle cx="1884.5" cy="796.9" r="4.3"/>
<circle cx="1845.1" cy="810.6" r="4.3"/>
<circle cx="1851.3" cy="814.7" r="4.3"/>
<circle cx="1843.7" cy="818.7" r="4.3"/>
<circle cx="1882.3" cy="833.8" r="4.3"/>
<circle cx="1876.5" cy="837.9" r="4.3"/>
<circle cx="1883.3" cy="841.9" r="4.3"/>
<circle cx="1787.5" cy="855.3" r="4.3"/>
<circle cx="1788" cy="861.5" r="4.3"/>
<circle cx="1787" cy="867.6" r="4.3"/>
<circle cx="1742.9" cy="879" r="4.3"/>
<circle cx="1743.2" cy="885.5" r="4.3"/>
<circle cx="1742.7" cy="891.3" r="4.3"/>
<circle cx="1770.1" cy="902.8" r="4.3"/>
<circle cx="1771.1" cy="908.6" r="4.3"/>
<circle cx="1769.7" cy="915" r="4.3"/>
<circle cx="1738.6" cy="926.3" r="4.3"/>
<circle cx="1739" cy="932.1" r="4.3"/>
<circle cx="1738.2" cy="938.6" r="4.3"/>
<circle cx="1773.4" cy="949.5" r="4.3"/>
<circle cx="1774.2" cy="955.7" r="4.3"/>
<circle cx="1772.8" cy="961.8" r="4.3"/>
<circle cx="1736.3" cy="973.5" r="4.3"/>
<circle cx="1736.8" cy="979.3" r="4.3"/>
<circle cx="1736" cy="985.5" r="4.3"/>
<circle cx="1733.8" cy="997.1" r="4.3"/>
<circle cx="1734.5" cy="1002.9" r="4.3"/>
<circle cx="1733.4" cy="1009" r="4.3"/>
<circle cx="1761.8" cy="1020.3" r="4.3"/>
<circle cx="1762.6" cy="1026.4" r="4.3"/>
<circle cx="1761" cy="1032.5" r="4.3"/>
<circle cx="1740.6" cy="1043.8" r="4.3"/>
<circle cx="1741.2" cy="1050.1" r="4.3"/>
<circle cx="1740" cy="1056.2" r="4.3"/>
<circle cx="1885.7" cy="1067.5" r="4.3"/>
<circle cx="1886.8" cy="1074.1" r="4.3"/>
<circle cx="1885.2" cy="1079.6" r="4.3"/>
<circle cx="1770.5" cy="1091.2" r="4.3"/>
<circle cx="1771.3" cy="1097.4" r="4.3"/>
<circle cx="1769.8" cy="1103.3" r="4.3"/>
<circle cx="1751.6" cy="1114.9" r="4.3"/>
<circle cx="1752.3" cy="1121.2" r="4.3"/>
<circle cx="1751" cy="1127.1" r="4.3"/>
<circle cx="1755.6" cy="1138.4" r="4.3"/>
<circle cx="1756.4" cy="1144.5" r="4.3"/>
<circle cx="1755" cy="1150.7" r="4.3"/>
<circle cx="1750.8" cy="1162.3" r="4.3"/>
<circle cx="1751.5" cy="1168.1" r="4.3"/>
<circle cx="1750.2" cy="1174.4" r="4.3"/>
<circle cx="1831.8" cy="1185.1" r="4.3"/>
<circle cx="1832.8" cy="1191.8" r="4.3"/>
<circle cx="1831.2" cy="1197.6" r="4.3"/>
<circle cx="1923.8" cy="1215.2" r="4.3"/>
<circle cx="1929.6" cy="1215.2" r="4.3"/>
<circle cx="1936.4" cy="1215.2" r="4.3"/>
<circle cx="1732.4" cy="1232.5" r="4.3"/>
<circle cx="1732.9" cy="1238.8" r="4.3"/>
<circle cx="1732.4" cy="1244.5" r="4.3"/>
<text x="1720.5" y="1335.8" font-size="32.4" text-anchor="middle" textLength="232.9" lengthAdjust="spacing"><tspan font-style="italic">E. coli</tspan>-preferred</text>
<text x="1717.2" y="1376.4" font-size="31.3" text-anchor="middle" fill="#231815" textLength="314.3" lengthAdjust="spacing">Relative fluorescence</text>
<text x="20.9" y="646.4" font-size="33">d</text>
<text x="721.9" y="646.4" font-size="34.5">e</text>
<text x="1398.4" y="646.4" font-size="33">f</text>
</svg>
</body></html>
